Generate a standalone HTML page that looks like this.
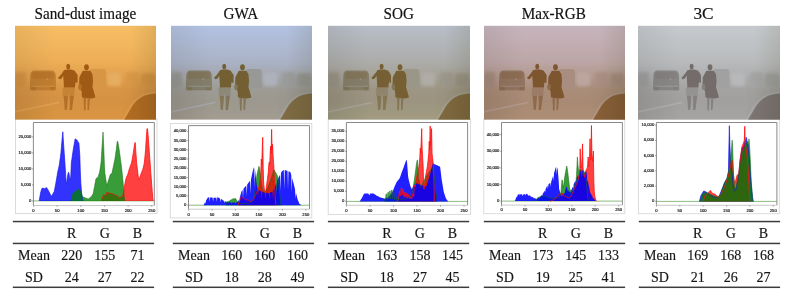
<!DOCTYPE html>
<html><head><meta charset="utf-8"><style>
html,body{margin:0;padding:0;background:#fff;width:793px;height:296px;overflow:hidden}
svg text{font-family:"Liberation Serif",serif;fill:#111;filter:url(#gs)}
.s{fill:#111;stroke:#111;stroke-width:0.18px}
.m{font-size:14px;fill:#151515;stroke:#151515;stroke-width:0.15px}
.t{font-family:"Liberation Sans",sans-serif !important;font-size:4.15px;fill:#1e1e1e;stroke:#3a3a3a;stroke-width:0.22px}
</style></head><body>
<svg width="793" height="296" viewBox="0 0 793 296" style="display:block">
<defs><filter id="gs" x="-0.2" y="-0.5" width="1.4" height="2"><feColorMatrix type="saturate" values="0"/></filter></defs><rect width="793" height="296" fill="#fff"/>
<text transform="translate(85.4,18.55) scale(0.95,1)" x="0" y="0" font-size="16" text-anchor="middle" class="s">Sand-dust image</text><text transform="translate(240.9,18.55) scale(0.95,1)" x="0" y="0" font-size="16" text-anchor="middle" class="s">GWA</text><text transform="translate(398.7,18.55) scale(0.95,1)" x="0" y="0" font-size="16" text-anchor="middle" class="s">SOG</text><text transform="translate(553.7,18.55) scale(0.95,1)" x="0" y="0" font-size="16" text-anchor="middle" class="s">Max-RGB</text><text transform="translate(703.5,18.55) scale(1.08,1)" x="0" y="0" font-size="16" text-anchor="middle" class="s">3C</text><rect x="15.5" y="119.0" width="141.5" height="94.6" fill="#fff" stroke="#d8d8d8" stroke-width="0.9"/><svg x="33.4" y="122.5" width="120.9" height="83" overflow="hidden"><g transform="translate(-33.4,-122.5)"><line x1="33.5" y1="200.9" x2="154.3" y2="200.9" stroke="#8cbc80" stroke-width="1"/><polygon points="33.5,200.9 33.97,200.9 34.45,200.9 34.92,200.9 35.39,200.9 35.87,200.9 36.34,200.9 36.81,200.9 37.28,200.9 37.76,200.9 38.23,200.9 38.7,200.9 39.18,200.9 39.65,198.23 40.12,195.57 40.59,192.9 41.07,191.11 41.54,189.32 42.01,188.36 42.49,188.23 42.96,188.1 43.43,188.31 43.91,188.53 44.38,188.74 44.85,188.46 45.33,188.17 45.8,187.89 46.27,187.6 46.74,187.83 47.22,188.58 47.69,189.33 48.16,190.15 48.64,191.04 49.11,191.94 49.58,192.84 50.05,193.73 50.53,194.63 51,195.52 51.47,196.42 51.95,195.57 52.42,194.71 52.89,193.86 53.37,193.01 53.84,192.15 54.31,191.3 54.78,188.75 55.26,186.21 55.73,183.66 56.2,181.12 56.68,178.37 57.15,175.49 57.62,172.61 58.1,170.27 58.57,168.28 59.04,166.3 59.52,163.28 59.99,159.82 60.46,156.36 60.93,152.9 61.41,147.3 61.88,141.7 62.35,136.74 62.83,131.78 63.3,139.46 63.77,146.67 64.25,153.4 64.72,160.13 65.19,167.36 65.66,174.94 66.14,182.51 66.61,183.37 67.08,179.76 67.56,176.15 68.03,173.65 68.5,172.28 68.97,173.02 69.45,176.94 69.92,179.05 70.39,179.96 70.87,174.55 71.34,162.82 71.81,159.54 72.29,156.26 72.76,152.98 73.23,149.7 73.7,146.98 74.18,144.26 74.65,141.54 75.12,138.82 75.6,139.14 76.07,139.46 76.54,139.78 77.02,140.1 77.49,140.9 77.96,141.7 78.44,142.5 78.91,143.3 79.38,149.7 79.85,156.1 80.33,172.1 80.8,182.34 81.27,188.74 81.75,195.14 82.22,198.06 82.69,199.48 83.16,200.9 83.64,200.9 84.11,200.9 84.58,200.9 85.06,200.9 85.53,200.9 86,200.9 86.48,200.9 86.95,200.9 87.42,200.9 87.89,200.9 88.37,200.9 88.84,200.9 89.31,200.9 89.79,200.9 90.26,200.9 90.73,200.9 91.21,200.9 91.68,200.9 92.15,200.9 92.62,200.9 93.1,200.9 93.57,200.9 94.04,200.9 94.52,200.9 94.99,200.9 95.46,200.9 95.94,200.9 96.41,200.9 96.88,200.9 97.35,200.9 97.83,200.9 98.3,200.9 98.77,200.9 99.25,200.9 99.72,200.9 100.19,200.9 100.67,200.9 101.14,200.9 101.61,200.9 102.08,200.9 102.56,200.9 103.03,200.9 103.5,200.9 103.98,200.9 104.45,200.9 104.92,200.9 105.4,200.9 105.87,200.9 106.34,200.9 106.81,200.9 107.29,200.9 107.76,200.9 108.23,200.9 108.71,200.9 109.18,200.9 109.65,200.9 110.13,200.9 110.6,200.9 111.07,200.9 111.55,200.9 112.02,200.9 112.49,200.9 112.96,200.9 113.44,200.9 113.91,200.9 114.38,200.9 114.86,200.9 115.33,200.9 115.8,200.9 116.27,200.9 116.75,200.9 117.22,200.9 117.69,200.9 118.17,200.9 118.64,200.9 119.11,200.9 119.59,200.9 120.06,200.9 120.53,200.9 121,200.9 121.48,200.9 121.95,200.9 122.42,200.9 122.9,200.9 123.37,200.9 123.84,200.9 124.32,200.9 124.79,200.9 125.26,200.9 125.73,200.9 126.21,200.9 126.68,200.9 127.15,200.9 127.63,200.9 128.1,200.9 128.57,200.9 129.05,200.9 129.52,200.9 129.99,200.9 130.46,200.9 130.94,200.9 131.41,200.9 131.88,200.9 132.36,200.9 132.83,200.9 133.3,200.9 133.78,200.9 134.25,200.9 134.72,200.9 135.19,200.9 135.67,200.9 136.14,200.9 136.61,200.9 137.09,200.9 137.56,200.9 138.03,200.9 138.51,200.9 138.98,200.9 139.45,200.9 139.93,200.9 140.4,200.9 140.87,200.9 141.34,200.9 141.82,200.9 142.29,200.9 142.76,200.9 143.24,200.9 143.71,200.9 144.18,200.9 144.66,200.9 145.13,200.9 145.6,200.9 146.07,200.9 146.55,200.9 147.02,200.9 147.49,200.9 147.97,200.9 148.44,200.9 148.91,200.9 149.38,200.9 149.86,200.9 150.33,200.9 150.8,200.9 151.28,200.9 151.75,200.9 152.22,200.9 152.7,200.9 153.17,200.9 153.64,200.9 154.12,200.9 154.12,200.9 33.5,200.9" fill="#0000ff" fill-opacity="0.8"/><polygon points="33.5,200.9 33.97,200.9 34.45,200.9 34.92,200.9 35.39,200.9 35.87,200.9 36.34,200.9 36.81,200.9 37.28,200.9 37.76,200.9 38.23,200.9 38.7,200.9 39.18,200.9 39.65,200.9 40.12,200.9 40.59,200.9 41.07,200.9 41.54,200.9 42.01,200.9 42.49,200.9 42.96,200.9 43.43,200.9 43.91,200.9 44.38,200.9 44.85,200.9 45.33,200.9 45.8,200.9 46.27,200.9 46.74,200.9 47.22,200.9 47.69,200.9 48.16,200.9 48.64,200.9 49.11,200.9 49.58,200.9 50.05,200.9 50.53,200.9 51,200.9 51.47,200.9 51.95,200.9 52.42,200.9 52.89,200.9 53.37,200.9 53.84,200.9 54.31,200.9 54.78,200.9 55.26,200.9 55.73,200.9 56.2,200.9 56.68,200.9 57.15,200.9 57.62,200.9 58.1,200.9 58.57,200.9 59.04,200.9 59.52,200.9 59.99,200.9 60.46,200.9 60.93,200.9 61.41,200.9 61.88,200.9 62.35,200.9 62.83,200.9 63.3,200.9 63.77,200.9 64.25,200.9 64.72,200.9 65.19,200.9 65.66,200.9 66.14,200.9 66.61,200.9 67.08,200.9 67.56,200.9 68.03,200.9 68.5,200.9 68.97,200.9 69.45,200.9 69.92,200.9 70.39,200.9 70.87,200.9 71.34,200.9 71.81,200.9 72.29,200.9 72.76,200.9 73.23,200.9 73.7,200.9 74.18,200.9 74.65,200.9 75.12,200.9 75.6,200.9 76.07,200.9 76.54,200.9 77.02,200.9 77.49,200.9 77.96,200.9 78.44,200.9 78.91,200.9 79.38,200.9 79.85,200.9 80.33,200.9 80.8,200.9 81.27,200.9 81.75,200.9 82.22,200.9 82.69,200.9 83.16,200.9 83.64,200.9 84.11,200.9 84.58,200.9 85.06,200.9 85.53,200.9 86,200.9 86.48,200.9 86.95,200.9 87.42,200.9 87.89,200.9 88.37,200.9 88.84,200.9 89.31,200.9 89.79,200.9 90.26,200.9 90.73,200.9 91.21,200.9 91.68,200.9 92.15,200.9 92.62,200.9 93.1,200.9 93.57,200.9 94.04,200.9 94.52,200.9 94.99,200.9 95.46,200.9 95.94,200.9 96.41,200.9 96.88,200.9 97.35,200.9 97.83,200.9 98.3,200.9 98.77,200.9 99.25,200.9 99.72,200.9 100.19,200.9 100.67,200.9 101.14,200.9 101.61,199.62 102.08,198.34 102.56,197.06 103.03,196.21 103.5,195.35 103.98,194.5 104.45,195.03 104.92,195.57 105.4,196.1 105.87,194.82 106.34,193.54 106.81,192.26 107.29,192.47 107.76,192.69 108.23,192.9 108.71,193.01 109.18,193.12 109.65,193.23 110.13,193.34 110.6,193.45 111.07,193.55 111.55,193.66 112.02,193.77 112.49,193.9 112.96,194.07 113.44,194.25 113.91,194.42 114.38,194.6 114.86,194.77 115.33,194.95 115.8,195.13 116.27,195.3 116.75,195.5 117.22,195.93 117.69,196.36 118.17,196.78 118.64,197.21 119.11,197.35 119.59,197.3 120.06,197.24 120.53,197.19 121,197.14 121.48,197.09 121.95,196.62 122.42,195.74 122.9,194.85 123.37,192.9 123.84,190.23 124.32,187.57 124.79,184.91 125.26,182.26 125.73,179.61 126.21,178.02 126.68,176.89 127.15,175.75 127.63,174.61 128.1,173.36 128.57,171.64 129.05,169.93 129.52,168.39 129.99,167.13 130.46,165.86 130.94,164.59 131.41,163.33 131.88,161.17 132.36,158.41 132.83,155.66 133.3,152.9 133.78,149.78 134.25,146.67 134.72,143.55 135.19,142.45 135.67,149.42 136.14,156.21 136.61,162.82 137.09,166.89 137.56,170.97 138.03,175.04 138.51,179.11 138.98,179.91 139.45,178.51 139.93,177.12 140.4,175.73 140.87,174.34 141.34,173.13 141.82,171.92 142.29,170.71 142.76,169.5 143.24,167.85 143.71,165.76 144.18,163.66 144.66,159.79 145.13,154.75 145.6,149.7 146.07,141.58 146.55,134.77 147.02,128.52 147.49,128.9 147.97,133.7 148.44,140.1 148.91,146.5 149.38,152.9 149.86,159.53 150.33,166.16 150.8,172.72 151.28,179.02 151.75,185.32 152.22,191.62 152.7,197.81 153.17,200.9 153.64,200.9 154.12,200.9 154.12,200.9 33.5,200.9" fill="#ff0000" fill-opacity="0.75"/><polygon points="33.5,200.9 33.97,200.9 34.45,200.9 34.92,200.9 35.39,200.9 35.87,200.9 36.34,200.9 36.81,200.9 37.28,200.9 37.76,200.9 38.23,200.9 38.7,200.9 39.18,200.9 39.65,200.9 40.12,200.9 40.59,200.9 41.07,200.9 41.54,200.9 42.01,200.9 42.49,200.9 42.96,200.9 43.43,200.9 43.91,200.9 44.38,200.9 44.85,200.9 45.33,200.9 45.8,200.9 46.27,200.9 46.74,200.9 47.22,200.9 47.69,200.9 48.16,200.9 48.64,200.9 49.11,200.9 49.58,200.9 50.05,200.9 50.53,200.9 51,200.9 51.47,200.9 51.95,200.9 52.42,200.9 52.89,200.9 53.37,200.9 53.84,200.9 54.31,200.9 54.78,200.9 55.26,200.9 55.73,200.9 56.2,200.9 56.68,200.9 57.15,200.9 57.62,200.9 58.1,200.9 58.57,200.9 59.04,200.9 59.52,200.9 59.99,200.9 60.46,200.9 60.93,200.9 61.41,200.9 61.88,200.9 62.35,200.9 62.83,200.9 63.3,200.9 63.77,200.9 64.25,200.9 64.72,200.9 65.19,200.9 65.66,200.9 66.14,200.9 66.61,200.9 67.08,200.9 67.56,200.9 68.03,200.9 68.5,200.9 68.97,200.9 69.45,200.9 69.92,200.9 70.39,200.9 70.87,200.9 71.34,199.3 71.81,197.38 72.29,195.46 72.76,193.54 73.23,193.17 73.7,192.79 74.18,192.42 74.65,192.05 75.12,191.67 75.6,191.3 76.07,190.93 76.54,190.55 77.02,190.18 77.49,189.81 77.96,189.43 78.44,189.06 78.91,189.57 79.38,190.08 79.85,190.59 80.33,191.1 80.8,192.01 81.27,193.19 81.75,194.37 82.22,195.56 82.69,196.74 83.16,196.95 83.64,197.17 84.11,197.38 84.58,197.59 85.06,197.81 85.53,198.02 86,198.18 86.48,198.34 86.95,198.5 87.42,198.66 87.89,198.82 88.37,198.98 88.84,198.61 89.31,198.23 89.79,197.86 90.26,197.49 90.73,197.11 91.21,196.74 91.68,196.02 92.15,195.3 92.62,194.58 93.1,193.86 93.57,191.41 94.04,188.95 94.52,186.5 94.99,183.94 95.46,181.38 95.94,178.82 96.41,178.37 96.88,177.92 97.35,177.48 97.83,177.03 98.3,176.58 98.77,174.87 99.25,173.17 99.72,171.46 100.19,168.37 100.67,165.28 101.14,161.74 101.61,154.12 102.08,146.5 102.56,139.3 103.03,132.1 103.5,141.7 103.98,153.07 104.45,166.21 104.92,173.34 105.4,176.47 105.87,179.6 106.34,182.73 106.81,185.86 107.29,184.3 107.76,182.73 108.23,181.17 108.71,179.6 109.18,178.07 109.65,176.58 110.13,175.09 110.6,174.23 111.07,174.02 111.55,173.81 112.02,172.63 112.49,170.5 112.96,168.37 113.44,166.15 113.91,163.85 114.38,161.56 114.86,159.26 115.33,156.35 115.8,153.02 116.27,149.7 116.75,145.57 117.22,141.43 117.69,141.27 118.17,143.74 118.64,146.22 119.11,149.19 119.59,152.64 120.06,156.1 120.53,159.76 121,163.41 121.48,167.07 121.95,171.11 122.42,175.52 122.9,179.93 123.37,185.54 123.84,191.94 124.32,198.34 124.79,200.9 125.26,200.9 125.73,200.9 126.21,200.9 126.68,200.9 127.15,200.9 127.63,200.9 128.1,200.9 128.57,200.9 129.05,200.9 129.52,200.9 129.99,200.9 130.46,200.9 130.94,200.9 131.41,200.9 131.88,200.9 132.36,200.9 132.83,200.9 133.3,200.9 133.78,200.9 134.25,200.9 134.72,200.9 135.19,200.9 135.67,200.9 136.14,200.9 136.61,200.9 137.09,200.9 137.56,200.9 138.03,200.9 138.51,200.9 138.98,200.9 139.45,200.9 139.93,200.9 140.4,200.9 140.87,200.9 141.34,200.9 141.82,200.9 142.29,200.9 142.76,200.9 143.24,200.9 143.71,200.9 144.18,200.9 144.66,200.9 145.13,200.9 145.6,200.9 146.07,200.9 146.55,200.9 147.02,200.9 147.49,200.9 147.97,200.9 148.44,200.9 148.91,200.9 149.38,200.9 149.86,200.9 150.33,200.9 150.8,200.9 151.28,200.9 151.75,200.9 152.22,200.9 152.7,200.9 153.17,200.9 153.64,200.9 154.12,200.9 154.12,200.9 33.5,200.9" fill="#008000" fill-opacity="0.78"/><polyline points="39.18,200.9 39.65,198.23 40.12,195.57 40.59,192.9 41.07,191.11 41.54,189.32 42.01,188.36 42.49,188.23 42.96,188.1 43.43,188.31 43.91,188.53 44.38,188.74 44.85,188.46 45.33,188.17 45.8,187.89 46.27,187.6 46.74,187.83 47.22,188.58 47.69,189.33 48.16,190.15 48.64,191.04 49.11,191.94 49.58,192.84 50.05,193.73 50.53,194.63 51,195.52 51.47,196.42 51.95,195.57 52.42,194.71 52.89,193.86 53.37,193.01 53.84,192.15 54.31,191.3 54.78,188.75 55.26,186.21 55.73,183.66 56.2,181.12 56.68,178.37 57.15,175.49 57.62,172.61 58.1,170.27 58.57,168.28 59.04,166.3 59.52,163.28 59.99,159.82 60.46,156.36 60.93,152.9 61.41,147.3 61.88,141.7 62.35,136.74 62.83,131.78 63.3,139.46 63.77,146.67 64.25,153.4 64.72,160.13 65.19,167.36 65.66,174.94 66.14,182.51 66.61,183.37 67.08,179.76 67.56,176.15 68.03,173.65 68.5,172.28 68.97,173.02 69.45,176.94 69.92,179.05 70.39,179.96 70.87,174.55 71.34,162.82 71.81,159.54 72.29,156.26 72.76,152.98 73.23,149.7 73.7,146.98 74.18,144.26 74.65,141.54 75.12,138.82 75.6,139.14 76.07,139.46 76.54,139.78 77.02,140.1 77.49,140.9 77.96,141.7 78.44,142.5 78.91,143.3 79.38,149.7 79.85,156.1 80.33,172.1 80.8,182.34 81.27,188.74 81.75,195.14 82.22,198.06 82.69,199.48 83.16,200.9" fill="none" stroke="#1010e8" stroke-width="0.7" stroke-opacity="0.9" stroke-linejoin="round"/><polyline points="101.14,200.9 101.61,199.62 102.08,198.34 102.56,197.06 103.03,196.21 103.5,195.35 103.98,194.5 104.45,195.03 104.92,195.57 105.4,196.1 105.87,194.82 106.34,193.54 106.81,192.26 107.29,192.47 107.76,192.69 108.23,192.9 108.71,193.01 109.18,193.12 109.65,193.23 110.13,193.34 110.6,193.45 111.07,193.55 111.55,193.66 112.02,193.77 112.49,193.9 112.96,194.07 113.44,194.25 113.91,194.42 114.38,194.6 114.86,194.77 115.33,194.95 115.8,195.13 116.27,195.3 116.75,195.5 117.22,195.93 117.69,196.36 118.17,196.78 118.64,197.21 119.11,197.35 119.59,197.3 120.06,197.24 120.53,197.19 121,197.14 121.48,197.09 121.95,196.62 122.42,195.74 122.9,194.85 123.37,192.9 123.84,190.23 124.32,187.57 124.79,184.91 125.26,182.26 125.73,179.61 126.21,178.02 126.68,176.89 127.15,175.75 127.63,174.61 128.1,173.36 128.57,171.64 129.05,169.93 129.52,168.39 129.99,167.13 130.46,165.86 130.94,164.59 131.41,163.33 131.88,161.17 132.36,158.41 132.83,155.66 133.3,152.9 133.78,149.78 134.25,146.67 134.72,143.55 135.19,142.45 135.67,149.42 136.14,156.21 136.61,162.82 137.09,166.89 137.56,170.97 138.03,175.04 138.51,179.11 138.98,179.91 139.45,178.51 139.93,177.12 140.4,175.73 140.87,174.34 141.34,173.13 141.82,171.92 142.29,170.71 142.76,169.5 143.24,167.85 143.71,165.76 144.18,163.66 144.66,159.79 145.13,154.75 145.6,149.7 146.07,141.58 146.55,134.77 147.02,128.52 147.49,128.9 147.97,133.7 148.44,140.1 148.91,146.5 149.38,152.9 149.86,159.53 150.33,166.16 150.8,172.72 151.28,179.02 151.75,185.32 152.22,191.62 152.7,197.81 153.17,200.9" fill="none" stroke="#ff1010" stroke-width="0.9" stroke-opacity="0.9" stroke-linejoin="round"/><polyline points="70.87,200.9 71.34,199.3 71.81,197.38 72.29,195.46 72.76,193.54 73.23,193.17 73.7,192.79 74.18,192.42 74.65,192.05 75.12,191.67 75.6,191.3 76.07,190.93 76.54,190.55 77.02,190.18 77.49,189.81 77.96,189.43 78.44,189.06 78.91,189.57 79.38,190.08 79.85,190.59 80.33,191.1 80.8,192.01 81.27,193.19 81.75,194.37 82.22,195.56 82.69,196.74 83.16,196.95 83.64,197.17 84.11,197.38 84.58,197.59 85.06,197.81 85.53,198.02 86,198.18 86.48,198.34 86.95,198.5 87.42,198.66 87.89,198.82 88.37,198.98 88.84,198.61 89.31,198.23 89.79,197.86 90.26,197.49 90.73,197.11 91.21,196.74 91.68,196.02 92.15,195.3 92.62,194.58 93.1,193.86 93.57,191.41 94.04,188.95 94.52,186.5 94.99,183.94 95.46,181.38 95.94,178.82 96.41,178.37 96.88,177.92 97.35,177.48 97.83,177.03 98.3,176.58 98.77,174.87 99.25,173.17 99.72,171.46 100.19,168.37 100.67,165.28 101.14,161.74 101.61,154.12 102.08,146.5 102.56,139.3 103.03,132.1 103.5,141.7 103.98,153.07 104.45,166.21 104.92,173.34 105.4,176.47 105.87,179.6 106.34,182.73 106.81,185.86 107.29,184.3 107.76,182.73 108.23,181.17 108.71,179.6 109.18,178.07 109.65,176.58 110.13,175.09 110.6,174.23 111.07,174.02 111.55,173.81 112.02,172.63 112.49,170.5 112.96,168.37 113.44,166.15 113.91,163.85 114.38,161.56 114.86,159.26 115.33,156.35 115.8,153.02 116.27,149.7 116.75,145.57 117.22,141.43 117.69,141.27 118.17,143.74 118.64,146.22 119.11,149.19 119.59,152.64 120.06,156.1 120.53,159.76 121,163.41 121.48,167.07 121.95,171.11 122.42,175.52 122.9,179.93 123.37,185.54 123.84,191.94 124.32,198.34 124.79,200.9" fill="none" stroke="#107010" stroke-width="0.6" stroke-opacity="0.9" stroke-linejoin="round"/></g></svg><path d="M33.4,205.5 L33.4,122.5 L154.3,122.5 L154.3,205.5" fill="none" stroke="#7c7c7c" stroke-width="0.9"/><line x1="33.4" y1="205.5" x2="154.3" y2="205.5" stroke="#c4c4c4" stroke-width="0.9"/><line x1="32" y1="200.9" x2="33.4" y2="200.9" stroke="#555" stroke-width="0.5"/><text x="31.2" y="201.9" class="t" text-anchor="end">0</text><line x1="32" y1="184.9" x2="33.4" y2="184.9" stroke="#555" stroke-width="0.5"/><text x="31.2" y="185.9" class="t" text-anchor="end">5,000</text><line x1="32" y1="168.9" x2="33.4" y2="168.9" stroke="#555" stroke-width="0.5"/><text x="31.2" y="169.9" class="t" text-anchor="end">10,000</text><line x1="32" y1="152.9" x2="33.4" y2="152.9" stroke="#555" stroke-width="0.5"/><text x="31.2" y="153.9" class="t" text-anchor="end">15,000</text><line x1="32" y1="136.9" x2="33.4" y2="136.9" stroke="#555" stroke-width="0.5"/><text x="31.2" y="137.9" class="t" text-anchor="end">20,000</text><line x1="33.5" y1="205.5" x2="33.5" y2="206.9" stroke="#555" stroke-width="0.5"/><text x="33.5" y="211.6" class="t" text-anchor="middle">0</text><line x1="57.15" y1="205.5" x2="57.15" y2="206.9" stroke="#555" stroke-width="0.5"/><text x="57.15" y="211.6" class="t" text-anchor="middle">50</text><line x1="80.8" y1="205.5" x2="80.8" y2="206.9" stroke="#555" stroke-width="0.5"/><text x="80.8" y="211.6" class="t" text-anchor="middle">100</text><line x1="104.45" y1="205.5" x2="104.45" y2="206.9" stroke="#555" stroke-width="0.5"/><text x="104.45" y="211.6" class="t" text-anchor="middle">150</text><line x1="128.1" y1="205.5" x2="128.1" y2="206.9" stroke="#555" stroke-width="0.5"/><text x="128.1" y="211.6" class="t" text-anchor="middle">200</text><line x1="151.75" y1="205.5" x2="151.75" y2="206.9" stroke="#555" stroke-width="0.5"/><text x="151.75" y="211.6" class="t" text-anchor="middle">250</text><rect x="170.3" y="123.5" width="141.5" height="94.4" fill="#fff" stroke="#d8d8d8" stroke-width="0.9"/><svg x="188.5" y="125.6" width="121" height="83.6" overflow="hidden"><g transform="translate(-188.5,-125.6)"><line x1="188.7" y1="205.2" x2="309.5" y2="205.2" stroke="#8cbc80" stroke-width="1"/><polygon points="188.7,205.2 189.17,205.2 189.64,205.2 190.11,205.2 190.57,205.2 191.04,205.2 191.51,205.2 191.98,205.2 192.45,205.2 192.92,205.2 193.38,205.2 193.85,205.2 194.32,205.2 194.79,205.2 195.26,205.2 195.73,205.2 196.19,205.2 196.66,205.2 197.13,205.2 197.6,205.2 198.07,205.2 198.54,205.2 199,205.2 199.47,205.2 199.94,205.2 200.41,205.2 200.88,205.2 201.35,205.2 201.82,205.2 202.28,205.2 202.75,205.2 203.22,205.2 203.69,205.2 204.16,205.2 204.63,205.2 205.09,205.2 205.56,205.2 206.03,205.2 206.5,205.2 206.97,205.2 207.44,205.2 207.9,205.2 208.37,205.2 208.84,205.2 209.31,205.2 209.78,205.2 210.25,205.2 210.71,205.2 211.18,205.2 211.65,205.2 212.12,205.2 212.59,205.2 213.06,205.2 213.53,205.2 213.99,205.2 214.46,205.2 214.93,205.2 215.4,205.2 215.87,205.2 216.34,205.2 216.8,205.2 217.27,205.2 217.74,205.2 218.21,205.2 218.68,205.2 219.15,205.2 219.61,205.2 220.08,205.2 220.55,205.2 221.02,205.2 221.49,205.2 221.96,205.2 222.42,205.2 222.89,205.2 223.36,205.2 223.83,205.2 224.3,205.2 224.77,205.2 225.24,205.2 225.7,205.2 226.17,203.54 226.64,201.88 227.11,201.73 227.58,201.57 228.05,201.42 228.51,201.27 228.98,201.11 229.45,200.96 229.92,200.66 230.39,200.35 230.86,200.05 231.32,199.75 231.79,199.45 232.26,199.14 232.73,198.91 233.2,198.85 233.67,198.8 234.13,198.74 234.6,198.68 235.07,198.62 235.54,198.56 236.01,199.27 236.48,199.97 236.95,200.68 237.41,201.39 237.88,201.96 238.35,202.24 238.82,202.52 239.29,202.8 239.76,203.08 240.22,203.36 240.69,203.37 241.16,203.39 241.63,203.41 242.1,203.43 242.57,203.45 243.03,203.47 243.5,203.49 243.97,203.5 244.44,203.52 244.91,203.54 245.38,203.52 245.84,203.5 246.31,203.49 246.78,203.47 247.25,203.45 247.72,203.43 248.19,203.41 248.66,203.39 249.12,203.37 249.59,203.36 250.06,203.01 250.53,202.66 251,202.32 251.47,201.97 251.93,201.63 252.4,201.28 252.87,200.94 253.34,200.59 253.81,198.05 254.28,195.52 254.74,192.98 255.21,190.45 255.68,186.15 256.15,181.84 256.62,177.54 257.09,174.17 257.55,172.22 258.02,170.26 258.49,168.3 258.96,166.34 259.43,167.87 259.9,171.73 260.37,175.59 260.83,179.2 261.3,182.43 261.77,185.65 262.24,188.42 262.71,189.37 263.18,190.31 263.64,191.25 264.11,192.19 264.58,192.32 265.05,191.62 265.52,190.93 265.99,190.24 266.45,189.55 266.92,188.86 267.39,188.12 267.86,186.95 268.33,185.78 268.8,184.61 269.26,183.43 269.73,182.26 270.2,181.09 270.67,179.74 271.14,178.34 271.61,176.94 272.08,175.54 272.54,174.14 273.01,172.74 273.48,171.34 273.95,169.94 274.42,170.49 274.89,171.26 275.35,172.02 275.82,172.79 276.29,173.58 276.76,174.53 277.23,175.48 277.7,176.43 278.16,180.01 278.63,183.59 279.1,187.16 279.57,191.77 280.04,196.83 280.51,201.89 280.97,204.61 281.44,205.2 281.91,205.2 282.38,205.2 282.85,205.2 283.32,205.2 283.79,205.2 284.25,205.2 284.72,205.2 285.19,205.2 285.66,205.2 286.13,205.2 286.6,205.2 287.06,205.2 287.53,205.2 288,205.2 288.47,205.2 288.94,205.2 289.41,205.2 289.87,205.2 290.34,205.2 290.81,205.2 291.28,205.2 291.75,205.2 292.22,205.2 292.68,205.2 293.15,205.2 293.62,205.2 294.09,205.2 294.56,205.2 295.03,205.2 295.5,205.2 295.96,205.2 296.43,205.2 296.9,205.2 297.37,205.2 297.84,205.2 298.31,205.2 298.77,205.2 299.24,205.2 299.71,205.2 300.18,205.2 300.65,205.2 301.12,205.2 301.58,205.2 302.05,205.2 302.52,205.2 302.99,205.2 303.46,205.2 303.93,205.2 304.39,205.2 304.86,205.2 305.33,205.2 305.8,205.2 306.27,205.2 306.74,205.2 307.21,205.2 307.67,205.2 308.14,205.2 308.14,205.2 188.7,205.2" fill="#008000" fill-opacity="0.78"/><polygon points="188.7,205.2 189.17,205.2 189.64,205.2 190.11,205.2 190.57,205.2 191.04,205.2 191.51,205.2 191.98,205.2 192.45,205.2 192.92,205.2 193.38,205.2 193.85,205.2 194.32,205.2 194.79,205.2 195.26,205.2 195.73,205.2 196.19,205.2 196.66,205.2 197.13,205.2 197.6,205.2 198.07,205.2 198.54,205.2 199,205.2 199.47,205.2 199.94,205.2 200.41,205.2 200.88,205.2 201.35,205.2 201.82,205.2 202.28,205.2 202.75,205.2 203.22,205.2 203.69,205.2 204.16,205.2 204.63,205.2 205.09,205.2 205.56,205.2 206.03,205.2 206.5,205.2 206.97,205.2 207.44,205.2 207.9,205.2 208.37,205.2 208.84,205.2 209.31,205.2 209.78,205.2 210.25,205.2 210.71,205.2 211.18,205.2 211.65,205.2 212.12,205.2 212.59,205.2 213.06,205.2 213.53,205.2 213.99,205.2 214.46,205.2 214.93,205.2 215.4,205.2 215.87,205.2 216.34,205.2 216.8,205.2 217.27,205.2 217.74,205.2 218.21,205.2 218.68,205.2 219.15,205.2 219.61,205.2 220.08,205.2 220.55,205.2 221.02,205.2 221.49,205.2 221.96,205.2 222.42,205.2 222.89,205.2 223.36,205.2 223.83,205.2 224.3,205.2 224.77,205.2 225.24,205.2 225.7,205.2 226.17,205.2 226.64,205.2 227.11,205.2 227.58,205.2 228.05,205.2 228.51,205.2 228.98,205.2 229.45,205.2 229.92,205.2 230.39,205.2 230.86,205.2 231.32,205.2 231.79,205.2 232.26,205.2 232.73,205.2 233.2,205.2 233.67,205.2 234.13,205.2 234.6,205.2 235.07,205.2 235.54,205.2 236.01,205.2 236.48,205.2 236.95,205.2 237.41,205.2 237.88,205.2 238.35,203.97 238.82,202.74 239.29,201.51 239.76,200.45 240.22,199.39 240.69,198.33 241.16,197.27 241.63,196.65 242.1,197.04 242.57,197.43 243.03,197.82 243.5,198.18 243.97,198.55 244.44,198.91 244.91,199.27 245.38,199.53 245.84,199.65 246.31,199.76 246.78,199.88 247.25,200 247.72,200.11 248.19,200.23 248.66,200.35 249.12,200.55 249.59,200.84 250.06,201.12 250.53,201.41 251,201.7 251.47,201.23 251.93,200.76 252.4,200.29 252.87,199.82 253.34,199.35 253.81,198.89 254.28,197.99 254.74,196.9 255.21,195.82 255.68,194.74 256.15,193.66 256.62,192.57 257.09,191.45 257.55,190.28 258.02,189.11 258.49,187.93 258.96,186.76 259.43,183.99 259.9,181.23 260.37,176.62 260.83,172.01 261.3,159.1 261.77,164.63 262.24,149.88 262.71,137.34 263.18,168.32 263.64,183.07 264.11,187.22 264.58,191.37 265.05,192.6 265.52,192.29 265.99,190.45 266.45,186.48 266.92,182.86 267.39,179.38 267.86,175.7 268.33,172.01 268.8,164.63 269.26,162.17 269.73,164.63 270.2,153.57 270.67,146.19 271.14,153.57 271.61,129.41 272.08,149.88 272.54,144.35 273.01,154.18 273.48,162.17 273.95,168.32 274.42,180.61 274.89,191.52 275.35,201.05 275.82,204.44 276.29,205.2 276.76,205.2 277.23,205.2 277.7,205.2 278.16,205.2 278.63,205.2 279.1,205.2 279.57,205.2 280.04,205.2 280.51,205.2 280.97,205.2 281.44,205.2 281.91,205.2 282.38,205.2 282.85,205.2 283.32,205.2 283.79,205.2 284.25,205.2 284.72,205.2 285.19,205.2 285.66,205.2 286.13,205.2 286.6,205.2 287.06,205.2 287.53,205.2 288,205.2 288.47,205.2 288.94,205.2 289.41,205.2 289.87,205.2 290.34,205.2 290.81,205.2 291.28,205.2 291.75,205.2 292.22,205.2 292.68,205.2 293.15,205.2 293.62,205.2 294.09,205.2 294.56,205.2 295.03,205.2 295.5,205.2 295.96,205.2 296.43,205.2 296.9,205.2 297.37,205.2 297.84,205.2 298.31,205.2 298.77,205.2 299.24,205.2 299.71,205.2 300.18,205.2 300.65,205.2 301.12,205.2 301.58,205.2 302.05,205.2 302.52,205.2 302.99,205.2 303.46,205.2 303.93,205.2 304.39,205.2 304.86,205.2 305.33,205.2 305.8,205.2 306.27,205.2 306.74,205.2 307.21,205.2 307.67,205.2 308.14,205.2 308.14,205.2 188.7,205.2" fill="#ff0000" fill-opacity="0.75"/><polygon points="188.7,205.2 189.17,205.2 189.64,205.2 190.11,205.2 190.57,205.2 191.04,205.2 191.51,205.2 191.98,205.2 192.45,205.2 192.92,205.2 193.38,205.2 193.85,205.2 194.32,205.2 194.79,205.2 195.26,205.2 195.73,205.2 196.19,205.2 196.66,205.2 197.13,205.2 197.6,205.2 198.07,205.2 198.54,205.2 199,205.2 199.47,205.2 199.94,205.2 200.41,205.2 200.88,205.2 201.35,205.2 201.82,205.2 202.28,205.2 202.75,205.2 203.22,205.2 203.69,205.02 204.16,204.12 204.63,203.21 205.09,202.31 205.56,203.49 206.03,200.58 206.5,199.83 206.97,199.08 207.44,198.32 207.9,197.57 208.37,197.28 208.84,197.31 209.31,201.66 209.78,197.35 210.25,197.38 210.71,197.4 211.18,197.42 211.65,197.45 212.12,197.49 212.59,197.53 213.06,201.77 213.53,197.63 213.99,197.67 214.46,197.72 214.93,197.77 215.4,197.81 215.87,197.73 216.34,197.61 216.8,201.73 217.27,197.38 217.74,197.29 218.21,197.52 218.68,197.75 219.15,197.99 219.61,198.22 220.08,198.46 220.55,202.29 221.02,199.02 221.49,199.3 221.96,199.58 222.42,199.86 222.89,200.14 223.36,200.42 223.83,200.67 224.3,203.25 224.77,201.07 225.24,201.28 225.7,201.48 226.17,201.68 226.64,201.88 227.11,201.94 227.58,202 228.05,203.78 228.51,202.11 228.98,202.17 229.45,202.23 229.92,202.29 230.39,202.35 230.86,202.4 231.32,202.43 231.79,203.96 232.26,202.43 232.73,202.43 233.2,202.43 233.67,202.43 234.13,202.43 234.6,202.43 235.07,202.43 235.54,203.96 236.01,202.43 236.48,202.43 236.95,202.43 237.41,201.97 237.88,201.3 238.35,200.63 238.82,199.97 239.29,202.54 239.76,197.61 240.22,195.93 240.69,194.24 241.16,192.55 241.63,191.19 242.1,190.61 242.57,190.02 243.03,198.11 243.5,188.85 243.97,188.27 244.44,187.68 244.91,187.12 245.38,186.56 245.84,185.99 246.31,185.43 246.78,196.05 247.25,184.3 247.72,183.74 248.19,183.18 248.66,182.62 249.12,182.01 249.59,181.35 250.06,180.7 250.53,193.88 251,179.38 251.47,177.19 251.93,174.99 252.4,172.79 252.87,170.6 253.34,168.62 253.81,167.17 254.28,187.44 254.74,167.14 255.21,171.42 255.68,175.7 256.15,179.95 256.62,184.21 257.09,187.1 257.55,187.93 258.02,197.81 258.49,189.61 258.96,190.45 259.43,190.63 259.9,190.82 260.37,191 260.83,191.19 261.3,191.37 261.77,199.06 262.24,191.74 262.71,191.92 263.18,192.11 263.64,192.29 264.11,192.38 264.58,192.48 265.05,192.57 265.52,199.56 265.99,192.75 266.45,192.85 266.92,192.94 267.39,193.03 267.86,193.12 268.33,193.21 268.8,193.03 269.26,199.64 269.73,192.66 270.2,192.48 270.67,192.29 271.14,192.11 271.61,191.92 272.08,191.74 272.54,191.55 273.01,198.98 273.48,190.18 273.95,189 274.42,187.81 274.89,186.63 275.35,185.44 275.82,184.26 276.29,183.07 276.76,194.74 277.23,180.86 277.7,179.75 278.16,178.65 278.63,177.54 279.1,176.62 279.57,175.7 280.04,174.77 280.51,191.09 280.97,172.93 281.44,172.01 281.91,171.55 282.38,171.09 282.85,170.62 283.32,170.16 283.79,169.82 284.25,189.33 284.72,170.06 285.19,170.18 285.66,170.29 286.13,170.41 286.6,170.53 287.06,170.72 287.53,170.9 288,189.85 288.47,171.27 288.94,171.45 289.41,171.64 289.87,171.82 290.34,172.01 290.81,173.54 291.28,175.08 291.75,192.34 292.22,178.15 292.68,179.76 293.15,181.67 293.62,183.57 294.09,185.48 294.56,187.38 295.03,189.28 295.5,198.89 295.96,192.99 296.43,194.8 296.9,196.61 297.37,198.41 297.84,200.22 298.31,201.08 298.77,201.95 299.24,204.12 299.71,203.67 300.18,204.36 300.65,204.64 301.12,204.92 301.58,205.2 302.05,205.2 302.52,205.2 302.99,205.2 303.46,205.2 303.93,205.2 304.39,205.2 304.86,205.2 305.33,205.2 305.8,205.2 306.27,205.2 306.74,205.2 307.21,205.2 307.67,205.2 308.14,205.2 308.14,205.2 188.7,205.2" fill="#0000ff" fill-opacity="0.88"/><polyline points="237.88,205.2 238.35,203.97 238.82,202.74 239.29,201.51 239.76,200.45 240.22,199.39 240.69,198.33 241.16,197.27 241.63,196.65 242.1,197.04 242.57,197.43 243.03,197.82 243.5,198.18 243.97,198.55 244.44,198.91 244.91,199.27 245.38,199.53 245.84,199.65 246.31,199.76 246.78,199.88 247.25,200 247.72,200.11 248.19,200.23 248.66,200.35 249.12,200.55 249.59,200.84 250.06,201.12 250.53,201.41 251,201.7 251.47,201.23 251.93,200.76 252.4,200.29 252.87,199.82 253.34,199.35 253.81,198.89 254.28,197.99 254.74,196.9 255.21,195.82 255.68,194.74 256.15,193.66 256.62,192.57 257.09,191.45 257.55,190.28 258.02,189.11 258.49,187.93 258.96,186.76 259.43,183.99 259.9,181.23 260.37,176.62 260.83,172.01 261.3,159.1 261.77,164.63 262.24,149.88 262.71,137.34 263.18,168.32 263.64,183.07 264.11,187.22 264.58,191.37 265.05,192.6 265.52,192.29 265.99,190.45 266.45,186.48 266.92,182.86 267.39,179.38 267.86,175.7 268.33,172.01 268.8,164.63 269.26,162.17 269.73,164.63 270.2,153.57 270.67,146.19 271.14,153.57 271.61,129.41 272.08,149.88 272.54,144.35 273.01,154.18 273.48,162.17 273.95,168.32 274.42,180.61 274.89,191.52 275.35,201.05 275.82,204.44 276.29,205.2" fill="none" stroke="#ff1010" stroke-width="0.9" stroke-opacity="0.9" stroke-linejoin="round"/><polyline points="225.7,205.2 226.17,203.54 226.64,201.88 227.11,201.73 227.58,201.57 228.05,201.42 228.51,201.27 228.98,201.11 229.45,200.96 229.92,200.66 230.39,200.35 230.86,200.05 231.32,199.75 231.79,199.45 232.26,199.14 232.73,198.91 233.2,198.85 233.67,198.8 234.13,198.74 234.6,198.68 235.07,198.62 235.54,198.56 236.01,199.27 236.48,199.97 236.95,200.68 237.41,201.39 237.88,201.96 238.35,202.24 238.82,202.52 239.29,202.8 239.76,203.08 240.22,203.36 240.69,203.37 241.16,203.39 241.63,203.41 242.1,203.43 242.57,203.45 243.03,203.47 243.5,203.49 243.97,203.5 244.44,203.52 244.91,203.54 245.38,203.52 245.84,203.5 246.31,203.49 246.78,203.47 247.25,203.45 247.72,203.43 248.19,203.41 248.66,203.39 249.12,203.37 249.59,203.36 250.06,203.01 250.53,202.66 251,202.32 251.47,201.97 251.93,201.63 252.4,201.28 252.87,200.94 253.34,200.59 253.81,198.05 254.28,195.52 254.74,192.98 255.21,190.45 255.68,186.15 256.15,181.84 256.62,177.54 257.09,174.17 257.55,172.22 258.02,170.26 258.49,168.3 258.96,166.34 259.43,167.87 259.9,171.73 260.37,175.59 260.83,179.2 261.3,182.43 261.77,185.65 262.24,188.42 262.71,189.37 263.18,190.31 263.64,191.25 264.11,192.19 264.58,192.32 265.05,191.62 265.52,190.93 265.99,190.24 266.45,189.55 266.92,188.86 267.39,188.12 267.86,186.95 268.33,185.78 268.8,184.61 269.26,183.43 269.73,182.26 270.2,181.09 270.67,179.74 271.14,178.34 271.61,176.94 272.08,175.54 272.54,174.14 273.01,172.74 273.48,171.34 273.95,169.94 274.42,170.49 274.89,171.26 275.35,172.02 275.82,172.79 276.29,173.58 276.76,174.53 277.23,175.48 277.7,176.43 278.16,180.01 278.63,183.59 279.1,187.16 279.57,191.77 280.04,196.83 280.51,201.89 280.97,204.61 281.44,205.2" fill="none" stroke="#107010" stroke-width="0.6" stroke-opacity="0.9" stroke-linejoin="round"/></g></svg><path d="M188.5,209.2 L188.5,125.6 L309.5,125.6 L309.5,209.2" fill="none" stroke="#7c7c7c" stroke-width="0.9"/><line x1="188.5" y1="209.2" x2="309.5" y2="209.2" stroke="#c4c4c4" stroke-width="0.9"/><line x1="187.1" y1="205.2" x2="188.5" y2="205.2" stroke="#555" stroke-width="0.5"/><text x="186.3" y="206.2" class="t" text-anchor="end">0</text><line x1="187.1" y1="195.98" x2="188.5" y2="195.98" stroke="#555" stroke-width="0.5"/><text x="186.3" y="196.98" class="t" text-anchor="end">5,000</text><line x1="187.1" y1="186.76" x2="188.5" y2="186.76" stroke="#555" stroke-width="0.5"/><text x="186.3" y="187.76" class="t" text-anchor="end">10,000</text><line x1="187.1" y1="177.54" x2="188.5" y2="177.54" stroke="#555" stroke-width="0.5"/><text x="186.3" y="178.54" class="t" text-anchor="end">15,000</text><line x1="187.1" y1="168.32" x2="188.5" y2="168.32" stroke="#555" stroke-width="0.5"/><text x="186.3" y="169.32" class="t" text-anchor="end">20,000</text><line x1="187.1" y1="159.1" x2="188.5" y2="159.1" stroke="#555" stroke-width="0.5"/><text x="186.3" y="160.1" class="t" text-anchor="end">25,000</text><line x1="187.1" y1="149.88" x2="188.5" y2="149.88" stroke="#555" stroke-width="0.5"/><text x="186.3" y="150.88" class="t" text-anchor="end">30,000</text><line x1="187.1" y1="140.66" x2="188.5" y2="140.66" stroke="#555" stroke-width="0.5"/><text x="186.3" y="141.66" class="t" text-anchor="end">35,000</text><line x1="187.1" y1="131.44" x2="188.5" y2="131.44" stroke="#555" stroke-width="0.5"/><text x="186.3" y="132.44" class="t" text-anchor="end">40,000</text><line x1="188.7" y1="209.2" x2="188.7" y2="210.6" stroke="#555" stroke-width="0.5"/><text x="188.7" y="215.7" class="t" text-anchor="middle">0</text><line x1="212.12" y1="209.2" x2="212.12" y2="210.6" stroke="#555" stroke-width="0.5"/><text x="212.12" y="215.7" class="t" text-anchor="middle">50</text><line x1="235.54" y1="209.2" x2="235.54" y2="210.6" stroke="#555" stroke-width="0.5"/><text x="235.54" y="215.7" class="t" text-anchor="middle">100</text><line x1="258.96" y1="209.2" x2="258.96" y2="210.6" stroke="#555" stroke-width="0.5"/><text x="258.96" y="215.7" class="t" text-anchor="middle">150</text><line x1="282.38" y1="209.2" x2="282.38" y2="210.6" stroke="#555" stroke-width="0.5"/><text x="282.38" y="215.7" class="t" text-anchor="middle">200</text><line x1="305.8" y1="209.2" x2="305.8" y2="210.6" stroke="#555" stroke-width="0.5"/><text x="305.8" y="215.7" class="t" text-anchor="middle">250</text><rect x="328.2" y="119.0" width="142.4" height="95.4" fill="#fff" stroke="#d8d8d8" stroke-width="0.9"/><svg x="346.4" y="122.5" width="121.2" height="82.8" overflow="hidden"><g transform="translate(-346.4,-122.5)"><line x1="346.5" y1="201.4" x2="467.6" y2="201.4" stroke="#8cbc80" stroke-width="1"/><polygon points="346.5,201.4 346.97,201.4 347.44,201.4 347.91,201.4 348.38,201.4 348.85,201.4 349.32,201.4 349.79,201.4 350.26,201.4 350.73,201.4 351.2,201.4 351.67,201.4 352.14,201.4 352.61,201.4 353.08,201.4 353.55,201.4 354.02,201.4 354.49,201.4 354.96,201.4 355.43,201.4 355.9,201.4 356.37,201.4 356.84,201.4 357.31,201.4 357.78,201.4 358.25,201.4 358.72,201.4 359.19,201.4 359.66,201.4 360.13,201.4 360.6,201.4 361.07,201.4 361.54,201.4 362.01,201.4 362.48,201.4 362.95,201.4 363.42,201.4 363.89,201.4 364.36,201.4 364.83,201.4 365.3,201.4 365.77,201.4 366.24,201.4 366.71,201.4 367.18,201.4 367.65,201.4 368.12,201.4 368.59,201.4 369.06,201.4 369.53,201.4 370,201.4 370.47,201.4 370.94,201.4 371.41,201.4 371.88,201.4 372.35,201.4 372.82,201.4 373.29,201.4 373.76,201.4 374.23,201.4 374.7,201.4 375.17,201.4 375.64,201.4 376.11,201.4 376.58,201.4 377.05,201.4 377.52,201.4 377.99,201.4 378.46,201.4 378.93,201.4 379.4,201.4 379.87,201.4 380.34,201.4 380.81,201.4 381.28,201.4 381.75,201.4 382.22,201.4 382.69,201.4 383.16,201.4 383.63,201.4 384.1,201.4 384.57,199 385.04,200.2 385.51,199.85 385.98,194.48 386.45,193.76 386.92,199.35 387.39,199.26 387.86,192.48 388.33,192.11 388.8,198.99 389.27,198.9 389.74,191.08 390.21,190.87 390.68,198.72 391.15,198.66 391.62,190.25 392.09,190.05 392.56,198.57 393.03,198.8 393.5,191.92 393.97,192.85 394.44,199.5 394.91,199.73 395.38,195.64 395.85,195.96 396.32,200.12 396.79,200.2 397.26,196.92 397.73,197.24 398.2,200.44 398.67,199.04 399.14,199.08 399.61,199.12 400.08,199.16 400.55,199.2 401.02,199.24 401.49,199.28 401.96,199.32 402.43,199.36 402.9,199.4 403.37,199.3 403.84,199.2 404.31,199.1 404.78,199 405.25,198.9 405.72,198.8 406.19,198.7 406.66,198.6 407.13,198.5 407.6,198.4 408.07,198.07 408.54,197.73 409.01,197.4 409.48,197.07 409.95,196.73 410.42,196.4 410.89,195.42 411.36,194.44 411.83,193.47 412.3,192.49 412.77,190.41 413.24,187.24 413.71,184.07 414.18,180.89 414.65,177.72 415.12,174.17 415.59,170.58 416.06,166.99 416.53,163.4 417,161.08 417.47,159.92 417.94,169.12 418.41,177.62 418.88,179.84 419.35,182.06 419.82,184.27 420.29,186.49 420.76,187.14 421.23,186.21 421.7,185.29 422.17,184.36 422.64,183.44 423.11,182.51 423.58,181.59 424.05,180.66 424.52,179.74 424.99,178.84 425.46,178.06 425.93,177.28 426.4,176.5 426.87,175.71 427.34,174.93 427.81,174.15 428.28,173.37 428.75,172.58 429.22,171.8 429.69,171.09 430.16,170.38 430.63,169.67 431.1,168.96 431.57,168.25 432.04,167.54 432.51,169.1 432.98,171.23 433.45,173.36 433.92,175.49 434.39,177.87 434.86,182.58 435.33,187.29 435.8,192 436.27,194.73 436.74,197.47 437.21,200.2 437.68,201.4 438.15,201.4 438.62,201.4 439.09,201.4 439.56,201.4 440.03,201.4 440.5,201.4 440.97,201.4 441.44,201.4 441.91,201.4 442.38,201.4 442.85,201.4 443.32,201.4 443.79,201.4 444.26,201.4 444.73,201.4 445.2,201.4 445.67,201.4 446.14,201.4 446.61,201.4 447.08,201.4 447.55,201.4 448.02,201.4 448.49,201.4 448.96,201.4 449.43,201.4 449.9,201.4 450.37,201.4 450.84,201.4 451.31,201.4 451.78,201.4 452.25,201.4 452.72,201.4 453.19,201.4 453.66,201.4 454.13,201.4 454.6,201.4 455.07,201.4 455.54,201.4 456.01,201.4 456.48,201.4 456.95,201.4 457.42,201.4 457.89,201.4 458.36,201.4 458.83,201.4 459.3,201.4 459.77,201.4 460.24,201.4 460.71,201.4 461.18,201.4 461.65,201.4 462.12,201.4 462.59,201.4 463.06,201.4 463.53,201.4 464,201.4 464.47,201.4 464.94,201.4 465.41,201.4 465.88,201.4 466.35,201.4 466.35,201.4 346.5,201.4" fill="#008000" fill-opacity="0.78"/><polygon points="346.5,201.4 346.97,201.4 347.44,201.4 347.91,201.4 348.38,201.4 348.85,201.4 349.32,201.4 349.79,201.4 350.26,201.4 350.73,201.4 351.2,201.4 351.67,201.4 352.14,201.4 352.61,201.4 353.08,201.4 353.55,201.4 354.02,201.4 354.49,201.4 354.96,201.4 355.43,201.4 355.9,201.4 356.37,201.4 356.84,201.4 357.31,201.4 357.78,201.4 358.25,201.4 358.72,201.4 359.19,201.4 359.66,201.4 360.13,201.4 360.6,201.4 361.07,201.4 361.54,201.4 362.01,201.4 362.48,201.4 362.95,201.4 363.42,201.4 363.89,201.4 364.36,201.4 364.83,201.4 365.3,201.4 365.77,201.4 366.24,201.4 366.71,201.4 367.18,201.4 367.65,201.4 368.12,201.4 368.59,201.4 369.06,201.4 369.53,201.4 370,201.4 370.47,201.4 370.94,201.4 371.41,201.4 371.88,201.4 372.35,201.4 372.82,201.4 373.29,201.4 373.76,201.4 374.23,201.4 374.7,201.4 375.17,201.4 375.64,201.4 376.11,201.4 376.58,201.4 377.05,201.4 377.52,201.4 377.99,201.4 378.46,201.4 378.93,201.4 379.4,201.4 379.87,201.4 380.34,201.4 380.81,201.4 381.28,201.4 381.75,201.4 382.22,201.4 382.69,201.4 383.16,201.4 383.63,201.4 384.1,201.4 384.57,201.4 385.04,201.4 385.51,201.4 385.98,201.4 386.45,201.4 386.92,201.4 387.39,201.4 387.86,201.4 388.33,201.4 388.8,201.4 389.27,201.4 389.74,201.4 390.21,201.4 390.68,201.4 391.15,201.4 391.62,201.4 392.09,201.4 392.56,201.4 393.03,201.4 393.5,201.4 393.97,201.4 394.44,201.4 394.91,201.4 395.38,201.4 395.85,201.4 396.32,201.4 396.79,201.4 397.26,201.4 397.73,200.48 398.2,199.85 398.67,198.74 399.14,193.59 399.61,191.29 400.08,195.92 400.55,195.53 401.02,188.38 401.49,187.56 401.96,194.43 402.43,194.94 402.9,189.04 403.37,190.1 403.84,196.47 404.31,196.78 404.78,192.04 405.25,192.29 405.72,197.13 406.19,197.25 406.66,193.01 407.13,193.25 407.6,197.59 408.07,197.81 408.54,194.47 409.01,195 409.48,198.57 409.95,198.83 410.42,196.5 410.89,196.09 411.36,198.64 411.83,198.45 412.3,194.86 412.77,193.59 413.24,196.62 413.71,195.61 414.18,187.25 414.65,185.14 415.12,186.67 415.59,183.86 416.06,181.06 416.53,178.25 417,175.57 417.47,173.39 417.94,171.22 418.41,169.04 418.88,166.87 419.35,162.78 419.82,157.4 420.29,148.2 420.76,153.4 421.23,141.4 421.7,128.6 422.17,149.4 422.64,157.4 423.11,165.4 423.58,184.74 424.05,189.2 424.52,185.2 424.99,181.2 425.46,177.2 425.93,174.23 426.4,171.71 426.87,169.19 427.34,166.66 427.81,163 428.28,158.2 428.75,153.4 429.22,141.4 429.69,149.4 430.16,126 430.63,145.4 431.1,141.4 431.57,128.6 432.04,153.4 432.51,157.4 432.98,161.4 433.45,168.07 433.92,181.61 434.39,200.13 434.86,201.4 435.33,201.4 435.8,201.4 436.27,201.4 436.74,201.4 437.21,201.4 437.68,201.4 438.15,201.4 438.62,201.4 439.09,201.4 439.56,201.4 440.03,201.4 440.5,201.4 440.97,201.4 441.44,201.4 441.91,201.4 442.38,201.4 442.85,201.4 443.32,201.4 443.79,201.4 444.26,201.4 444.73,201.4 445.2,201.4 445.67,201.4 446.14,201.4 446.61,201.4 447.08,201.4 447.55,201.4 448.02,201.4 448.49,201.4 448.96,201.4 449.43,201.4 449.9,201.4 450.37,201.4 450.84,201.4 451.31,201.4 451.78,201.4 452.25,201.4 452.72,201.4 453.19,201.4 453.66,201.4 454.13,201.4 454.6,201.4 455.07,201.4 455.54,201.4 456.01,201.4 456.48,201.4 456.95,201.4 457.42,201.4 457.89,201.4 458.36,201.4 458.83,201.4 459.3,201.4 459.77,201.4 460.24,201.4 460.71,201.4 461.18,201.4 461.65,201.4 462.12,201.4 462.59,201.4 463.06,201.4 463.53,201.4 464,201.4 464.47,201.4 464.94,201.4 465.41,201.4 465.88,201.4 466.35,201.4 466.35,201.4 346.5,201.4" fill="#ff0000" fill-opacity="0.75"/><polygon points="346.5,201.4 346.97,201.4 347.44,201.4 347.91,201.4 348.38,201.4 348.85,201.4 349.32,201.4 349.79,201.4 350.26,201.4 350.73,201.4 351.2,201.4 351.67,201.4 352.14,201.4 352.61,201.4 353.08,201.4 353.55,201.4 354.02,201.4 354.49,201.4 354.96,201.4 355.43,201.4 355.9,201.4 356.37,201.4 356.84,201.4 357.31,201.4 357.78,201.4 358.25,201.4 358.72,201.4 359.19,201.4 359.66,201.4 360.13,200.85 360.6,200.07 361.07,199.29 361.54,198.5 362.01,197.71 362.48,196.77 362.95,195.83 363.42,194.9 363.89,193.96 364.36,193.4 364.83,193.4 365.3,193.4 365.77,193.4 366.24,193.4 366.71,193.4 367.18,193.4 367.65,193.4 368.12,193.53 368.59,193.71 369.06,195.24 369.53,194.98 370,193.7 370.47,193.5 370.94,193.4 371.41,193.4 371.88,193.4 372.35,193.4 372.82,193.4 373.29,193.4 373.76,193.54 374.23,193.9 374.7,194.25 375.17,194.61 375.64,194.96 376.11,195.32 376.58,195.64 377.05,195.86 377.52,196.08 377.99,196.3 378.46,196.51 378.93,196.73 379.4,196.95 379.87,197.17 380.34,197.38 380.81,197.6 381.28,197.73 381.75,197.86 382.22,197.98 382.69,198.11 383.16,198.24 383.63,198.37 384.1,198.5 384.57,198.58 385.04,198.48 385.51,198.37 385.98,198.27 386.45,198.16 386.92,198.06 387.39,197.96 387.86,197.85 388.33,197.49 388.8,196.86 389.27,196.24 389.74,195.62 390.21,194.99 390.68,194.37 391.15,193.75 391.62,193.12 392.09,192.5 392.56,191.75 393.03,190.52 393.5,189.29 393.97,188.05 394.44,186.82 394.91,185.71 395.38,184.73 395.85,183.76 396.32,182.78 396.79,181.8 397.26,181.23 397.73,180.66 398.2,180.09 398.67,179.51 399.14,178.94 399.61,178.37 400.08,177.23 400.55,175.83 401.02,174.44 401.49,173.05 401.96,171.67 402.43,170.41 402.9,169.15 403.37,167.89 403.84,166.63 404.31,165.34 404.78,164.03 405.25,162.71 405.72,161.4 406.19,159.99 406.66,159.92 407.13,163 407.6,169.55 408.07,176.09 408.54,178.9 409.01,180.77 409.48,182.64 409.95,184.51 410.42,186.3 410.89,187.26 411.36,188.23 411.83,189.2 412.3,188.24 412.77,187.29 413.24,186.33 413.71,185.37 414.18,184.71 414.65,184.49 415.12,184.28 415.59,184.06 416.06,183.84 416.53,183.62 417,183.4 417.47,183.6 417.94,183.8 418.41,184 418.88,184.2 419.35,184.4 419.82,184.6 420.29,184.8 420.76,185 421.23,185.2 421.7,185.4 422.17,185.5 422.64,185.6 423.11,185.7 423.58,185.8 424.05,185.9 424.52,186 424.99,186.1 425.46,186.2 425.93,186.3 426.4,186.4 426.87,184.85 427.34,183.29 427.81,181.74 428.28,180.19 428.75,178.64 429.22,177.08 429.69,175.53 430.16,173.85 430.63,171.98 431.1,170.11 431.57,168.24 432.04,166.37 432.51,164.5 432.98,163.09 433.45,163.55 433.92,164.02 434.39,164.26 434.86,164.36 435.33,164.53 435.8,164.74 436.27,164.95 436.74,165.16 437.21,165.37 437.68,165.58 438.15,165.79 438.62,166 439.09,166.19 439.56,166.38 440.03,166.56 440.5,169.8 440.97,173.8 441.44,177.8 441.91,180.94 442.38,183.7 442.85,186.47 443.32,189.23 443.79,192 444.26,193.43 444.73,194.87 445.2,196.3 445.67,197.74 446.14,198.84 446.61,199.45 447.08,200.06 447.55,200.67 448.02,201.28 448.49,201.4 448.96,201.4 449.43,201.4 449.9,201.4 450.37,201.4 450.84,201.4 451.31,201.4 451.78,201.4 452.25,201.4 452.72,201.4 453.19,201.4 453.66,201.4 454.13,201.4 454.6,201.4 455.07,201.4 455.54,201.4 456.01,201.4 456.48,201.4 456.95,201.4 457.42,201.4 457.89,201.4 458.36,201.4 458.83,201.4 459.3,201.4 459.77,201.4 460.24,201.4 460.71,201.4 461.18,201.4 461.65,201.4 462.12,201.4 462.59,201.4 463.06,201.4 463.53,201.4 464,201.4 464.47,201.4 464.94,201.4 465.41,201.4 465.88,201.4 466.35,201.4 466.35,201.4 346.5,201.4" fill="#0000ff" fill-opacity="0.88"/><polyline points="397.26,201.4 397.73,200.48 398.2,199.85 398.67,198.74 399.14,193.59 399.61,191.29 400.08,195.92 400.55,195.53 401.02,188.38 401.49,187.56 401.96,194.43 402.43,194.94 402.9,189.04 403.37,190.1 403.84,196.47 404.31,196.78 404.78,192.04 405.25,192.29 405.72,197.13 406.19,197.25 406.66,193.01 407.13,193.25 407.6,197.59 408.07,197.81 408.54,194.47 409.01,195 409.48,198.57 409.95,198.83 410.42,196.5 410.89,196.09 411.36,198.64 411.83,198.45 412.3,194.86 412.77,193.59 413.24,196.62 413.71,195.61 414.18,187.25 414.65,185.14 415.12,186.67 415.59,183.86 416.06,181.06 416.53,178.25 417,175.57 417.47,173.39 417.94,171.22 418.41,169.04 418.88,166.87 419.35,162.78 419.82,157.4 420.29,148.2 420.76,153.4 421.23,141.4 421.7,128.6 422.17,149.4 422.64,157.4 423.11,165.4 423.58,184.74 424.05,189.2 424.52,185.2 424.99,181.2 425.46,177.2 425.93,174.23 426.4,171.71 426.87,169.19 427.34,166.66 427.81,163 428.28,158.2 428.75,153.4 429.22,141.4 429.69,149.4 430.16,126 430.63,145.4 431.1,141.4 431.57,128.6 432.04,153.4 432.51,157.4 432.98,161.4 433.45,168.07 433.92,181.61 434.39,200.13 434.86,201.4" fill="none" stroke="#ff1010" stroke-width="0.9" stroke-opacity="0.9" stroke-linejoin="round"/><polyline points="384.1,201.4 384.57,199 385.04,200.2 385.51,199.85 385.98,194.48 386.45,193.76 386.92,199.35 387.39,199.26 387.86,192.48 388.33,192.11 388.8,198.99 389.27,198.9 389.74,191.08 390.21,190.87 390.68,198.72 391.15,198.66 391.62,190.25 392.09,190.05 392.56,198.57 393.03,198.8 393.5,191.92 393.97,192.85 394.44,199.5 394.91,199.73 395.38,195.64 395.85,195.96 396.32,200.12 396.79,200.2 397.26,196.92 397.73,197.24 398.2,200.44 398.67,199.04 399.14,199.08 399.61,199.12 400.08,199.16 400.55,199.2 401.02,199.24 401.49,199.28 401.96,199.32 402.43,199.36 402.9,199.4 403.37,199.3 403.84,199.2 404.31,199.1 404.78,199 405.25,198.9 405.72,198.8 406.19,198.7 406.66,198.6 407.13,198.5 407.6,198.4 408.07,198.07 408.54,197.73 409.01,197.4 409.48,197.07 409.95,196.73 410.42,196.4 410.89,195.42 411.36,194.44 411.83,193.47 412.3,192.49 412.77,190.41 413.24,187.24 413.71,184.07 414.18,180.89 414.65,177.72 415.12,174.17 415.59,170.58 416.06,166.99 416.53,163.4 417,161.08 417.47,159.92 417.94,169.12 418.41,177.62 418.88,179.84 419.35,182.06 419.82,184.27 420.29,186.49 420.76,187.14 421.23,186.21 421.7,185.29 422.17,184.36 422.64,183.44 423.11,182.51 423.58,181.59 424.05,180.66 424.52,179.74 424.99,178.84 425.46,178.06 425.93,177.28 426.4,176.5 426.87,175.71 427.34,174.93 427.81,174.15 428.28,173.37 428.75,172.58 429.22,171.8 429.69,171.09 430.16,170.38 430.63,169.67 431.1,168.96 431.57,168.25 432.04,167.54 432.51,169.1 432.98,171.23 433.45,173.36 433.92,175.49 434.39,177.87 434.86,182.58 435.33,187.29 435.8,192 436.27,194.73 436.74,197.47 437.21,200.2 437.68,201.4" fill="none" stroke="#107010" stroke-width="0.6" stroke-opacity="0.9" stroke-linejoin="round"/></g></svg><path d="M346.4,205.3 L346.4,122.5 L467.6,122.5 L467.6,205.3" fill="none" stroke="#7c7c7c" stroke-width="0.9"/><line x1="346.4" y1="205.3" x2="467.6" y2="205.3" stroke="#c4c4c4" stroke-width="0.9"/><line x1="345" y1="201.4" x2="346.4" y2="201.4" stroke="#555" stroke-width="0.5"/><text x="344.2" y="202.4" class="t" text-anchor="end">0</text><line x1="345" y1="191.4" x2="346.4" y2="191.4" stroke="#555" stroke-width="0.5"/><text x="344.2" y="192.4" class="t" text-anchor="end">5,000</text><line x1="345" y1="181.4" x2="346.4" y2="181.4" stroke="#555" stroke-width="0.5"/><text x="344.2" y="182.4" class="t" text-anchor="end">10,000</text><line x1="345" y1="171.4" x2="346.4" y2="171.4" stroke="#555" stroke-width="0.5"/><text x="344.2" y="172.4" class="t" text-anchor="end">15,000</text><line x1="345" y1="161.4" x2="346.4" y2="161.4" stroke="#555" stroke-width="0.5"/><text x="344.2" y="162.4" class="t" text-anchor="end">20,000</text><line x1="345" y1="151.4" x2="346.4" y2="151.4" stroke="#555" stroke-width="0.5"/><text x="344.2" y="152.4" class="t" text-anchor="end">25,000</text><line x1="345" y1="141.4" x2="346.4" y2="141.4" stroke="#555" stroke-width="0.5"/><text x="344.2" y="142.4" class="t" text-anchor="end">30,000</text><line x1="345" y1="131.4" x2="346.4" y2="131.4" stroke="#555" stroke-width="0.5"/><text x="344.2" y="132.4" class="t" text-anchor="end">35,000</text><line x1="346.5" y1="205.3" x2="346.5" y2="206.7" stroke="#555" stroke-width="0.5"/><text x="346.5" y="211.9" class="t" text-anchor="middle">0</text><line x1="370" y1="205.3" x2="370" y2="206.7" stroke="#555" stroke-width="0.5"/><text x="370" y="211.9" class="t" text-anchor="middle">50</text><line x1="393.5" y1="205.3" x2="393.5" y2="206.7" stroke="#555" stroke-width="0.5"/><text x="393.5" y="211.9" class="t" text-anchor="middle">100</text><line x1="417" y1="205.3" x2="417" y2="206.7" stroke="#555" stroke-width="0.5"/><text x="417" y="211.9" class="t" text-anchor="middle">150</text><line x1="440.5" y1="205.3" x2="440.5" y2="206.7" stroke="#555" stroke-width="0.5"/><text x="440.5" y="211.9" class="t" text-anchor="middle">200</text><line x1="464" y1="205.3" x2="464" y2="206.7" stroke="#555" stroke-width="0.5"/><text x="464" y="211.9" class="t" text-anchor="middle">250</text><rect x="483.8" y="119.0" width="141" height="94.7" fill="#fff" stroke="#d8d8d8" stroke-width="0.9"/><svg x="501.5" y="122.5" width="120.9" height="82.6" overflow="hidden"><g transform="translate(-501.5,-122.5)"><line x1="501.6" y1="201.1" x2="622.4" y2="201.1" stroke="#8cbc80" stroke-width="1"/><polygon points="501.6,201.1 502.07,201.1 502.54,201.1 503,201.1 503.47,201.1 503.94,201.1 504.41,201.1 504.88,201.1 505.34,201.1 505.81,201.1 506.28,201.1 506.75,201.1 507.22,201.1 507.68,201.1 508.15,201.1 508.62,201.1 509.09,201.1 509.56,201.1 510.02,201.1 510.49,201.1 510.96,201.1 511.43,201.1 511.9,201.1 512.36,201.1 512.83,201.1 513.3,201.1 513.77,201.1 514.24,201.1 514.7,201.1 515.17,201.1 515.64,201.1 516.11,201.1 516.58,201.1 517.04,201.1 517.51,201.1 517.98,201.1 518.45,201.1 518.92,201.1 519.38,201.1 519.85,201.1 520.32,201.1 520.79,201.1 521.26,201.1 521.72,201.1 522.19,201.1 522.66,201.1 523.13,201.1 523.6,201.1 524.06,201.1 524.53,201.1 525,201.1 525.47,201.1 525.94,201.1 526.4,201.1 526.87,201.1 527.34,201.1 527.81,201.1 528.28,201.1 528.74,201.1 529.21,201.1 529.68,201.1 530.15,201.1 530.62,201.1 531.08,201.1 531.55,201.1 532.02,201.1 532.49,201.1 532.96,201.1 533.42,201.1 533.89,201.1 534.36,201.1 534.83,201.1 535.3,201.1 535.76,201.1 536.23,201.1 536.7,199.66 537.17,198.21 537.64,197.66 538.1,197.48 538.57,197.3 539.04,197.12 539.51,196.94 539.98,196.76 540.44,196.58 540.91,196.41 541.38,196.23 541.85,196.09 542.32,196.01 542.78,195.93 543.25,195.85 543.72,195.77 544.19,195.69 544.66,195.67 545.12,195.9 545.59,196.13 546.06,196.36 546.53,196.59 547,196.82 547.46,197.05 547.93,197.27 548.4,197.5 548.87,197.73 549.34,197.81 549.8,197.85 550.27,197.89 550.74,197.92 551.21,197.96 551.68,198 552.14,198.04 552.61,198.07 553.08,198.11 553.55,198.09 554.02,198.06 554.48,198.03 554.95,198.01 555.42,197.98 555.89,197.96 556.36,197.93 556.82,197.91 557.29,197.88 557.76,197.85 558.23,197.83 558.7,197.8 559.16,197.64 559.63,196.21 560.1,194.77 560.57,193.34 561.04,191.47 561.5,185.66 561.97,179.85 562.44,180.7 562.91,185.98 563.38,187.65 563.84,183.9 564.31,180.15 564.78,176.73 565.25,174.06 565.72,171.39 566.18,168.72 566.65,166.05 567.12,167.68 567.59,171.16 568.06,174.64 568.52,178.57 568.99,182.8 569.46,187.03 569.93,189.46 570.4,190.08 570.86,190.69 571.33,191.31 571.8,191.93 572.27,191.29 572.74,190.33 573.2,189.38 573.67,188.42 574.14,187.34 574.61,185.79 575.08,184.24 575.54,182.68 576.01,181.13 576.48,175.67 576.95,166.31 577.42,156.94 577.88,164.25 578.35,168.77 578.82,170.5 579.29,171.44 579.76,170.53 580.22,169.62 580.69,169.14 581.16,170.34 581.63,171.54 582.1,172.74 582.56,173.94 583.03,174.23 583.5,173.62 583.97,173.01 584.44,172.39 584.9,171.78 585.37,174.66 585.84,177.92 586.31,181.19 586.78,186.38 587.24,192.06 587.71,197.74 588.18,200.41 588.65,201.1 589.12,201.1 589.58,201.1 590.05,201.1 590.52,201.1 590.99,201.1 591.46,201.1 591.92,201.1 592.39,201.1 592.86,201.1 593.33,201.1 593.8,201.1 594.26,201.1 594.73,201.1 595.2,201.1 595.67,201.1 596.14,201.1 596.6,201.1 597.07,201.1 597.54,201.1 598.01,201.1 598.48,201.1 598.94,201.1 599.41,201.1 599.88,201.1 600.35,201.1 600.82,201.1 601.28,201.1 601.75,201.1 602.22,201.1 602.69,201.1 603.16,201.1 603.62,201.1 604.09,201.1 604.56,201.1 605.03,201.1 605.5,201.1 605.96,201.1 606.43,201.1 606.9,201.1 607.37,201.1 607.84,201.1 608.3,201.1 608.77,201.1 609.24,201.1 609.71,201.1 610.18,201.1 610.64,201.1 611.11,201.1 611.58,201.1 612.05,201.1 612.52,201.1 612.98,201.1 613.45,201.1 613.92,201.1 614.39,201.1 614.86,201.1 615.32,201.1 615.79,201.1 616.26,201.1 616.73,201.1 617.2,201.1 617.66,201.1 618.13,201.1 618.6,201.1 619.07,201.1 619.54,201.1 620,201.1 620.47,201.1 620.94,201.1 620.94,201.1 501.6,201.1" fill="#008000" fill-opacity="0.78"/><polygon points="501.6,201.1 502.07,201.1 502.54,201.1 503,201.1 503.47,201.1 503.94,201.1 504.41,201.1 504.88,201.1 505.34,201.1 505.81,201.1 506.28,201.1 506.75,201.1 507.22,201.1 507.68,201.1 508.15,201.1 508.62,201.1 509.09,201.1 509.56,201.1 510.02,201.1 510.49,201.1 510.96,201.1 511.43,201.1 511.9,201.1 512.36,201.1 512.83,201.1 513.3,201.1 513.77,201.1 514.24,201.1 514.7,201.1 515.17,201.1 515.64,201.1 516.11,201.1 516.58,201.1 517.04,201.1 517.51,201.1 517.98,201.1 518.45,201.1 518.92,201.1 519.38,201.1 519.85,201.1 520.32,201.1 520.79,201.1 521.26,201.1 521.72,201.1 522.19,201.1 522.66,201.1 523.13,201.1 523.6,201.1 524.06,201.1 524.53,201.1 525,201.1 525.47,201.1 525.94,201.1 526.4,201.1 526.87,201.1 527.34,201.1 527.81,201.1 528.28,201.1 528.74,201.1 529.21,201.1 529.68,201.1 530.15,201.1 530.62,201.1 531.08,201.1 531.55,201.1 532.02,201.1 532.49,201.1 532.96,201.1 533.42,201.1 533.89,201.1 534.36,201.1 534.83,201.1 535.3,201.1 535.76,201.1 536.23,201.1 536.7,201.1 537.17,201.1 537.64,201.1 538.1,201.1 538.57,201.1 539.04,201.1 539.51,201.1 539.98,201.1 540.44,201.1 540.91,201.1 541.38,201.1 541.85,201.1 542.32,201.1 542.78,201.1 543.25,201.1 543.72,201.1 544.19,201.1 544.66,201.1 545.12,201.1 545.59,201.1 546.06,201.1 546.53,201.1 547,201.1 547.46,201.1 547.93,201.1 548.4,201.1 548.87,201.1 549.34,201.1 549.8,201.1 550.27,201.1 550.74,200.98 551.21,200.8 551.68,200.63 552.14,200.45 552.61,200.28 553.08,200.1 553.55,199.76 554.02,199.41 554.48,199.06 554.95,198.72 555.42,198.37 555.89,198.02 556.36,197.61 556.82,197.05 557.29,196.49 557.76,195.92 558.23,195.36 558.7,194.8 559.16,194.27 559.63,194.02 560.1,193.78 560.57,193.53 561.04,193.29 561.5,193.04 561.97,192.8 562.44,193.49 562.91,194.18 563.38,194.86 563.84,195.55 564.31,195.84 564.78,196.08 565.25,196.32 565.72,196.56 566.18,196.8 566.65,197.04 567.12,197.19 567.59,197.3 568.06,197.41 568.52,197.51 568.99,197.62 569.46,197.73 569.93,197.41 570.4,196.67 570.86,195.93 571.33,195.18 571.8,194.44 572.27,193.4 572.74,192.28 573.2,191.16 573.67,190.04 574.14,188.96 574.61,188.02 575.08,187.09 575.54,186.15 576.01,185.21 576.48,184.28 576.95,183.34 577.42,181.51 577.88,179.69 578.35,177.86 578.82,176.2 579.29,174.54 579.76,171.22 580.22,148.81 580.69,167.9 581.16,166.24 581.63,164.58 582.1,157.94 582.56,143.83 583.03,167.9 583.5,171.6 583.97,175.31 584.44,176.75 584.9,174.82 585.37,172.88 585.84,171.22 586.31,169.56 586.78,168.73 587.24,167.9 587.71,164.58 588.18,156.94 588.65,166.24 589.12,164.58 589.58,156.28 590.05,138.68 590.52,159.6 590.99,156.28 591.46,125.57 591.92,154.62 592.39,157.94 592.86,161.26 593.33,150.97 593.8,181.18 594.26,191.78 594.73,196.12 595.2,197.78 595.67,199.44 596.14,200.65 596.6,201.1 597.07,201.1 597.54,201.1 598.01,201.1 598.48,201.1 598.94,201.1 599.41,201.1 599.88,201.1 600.35,201.1 600.82,201.1 601.28,201.1 601.75,201.1 602.22,201.1 602.69,201.1 603.16,201.1 603.62,201.1 604.09,201.1 604.56,201.1 605.03,201.1 605.5,201.1 605.96,201.1 606.43,201.1 606.9,201.1 607.37,201.1 607.84,201.1 608.3,201.1 608.77,201.1 609.24,201.1 609.71,201.1 610.18,201.1 610.64,201.1 611.11,201.1 611.58,201.1 612.05,201.1 612.52,201.1 612.98,201.1 613.45,201.1 613.92,201.1 614.39,201.1 614.86,201.1 615.32,201.1 615.79,201.1 616.26,201.1 616.73,201.1 617.2,201.1 617.66,201.1 618.13,201.1 618.6,201.1 619.07,201.1 619.54,201.1 620,201.1 620.47,201.1 620.94,201.1 620.94,201.1 501.6,201.1" fill="#ff0000" fill-opacity="0.75"/><polygon points="501.6,201.1 502.07,201.1 502.54,201.1 503,201.1 503.47,201.1 503.94,201.1 504.41,201.1 504.88,201.1 505.34,201.1 505.81,201.1 506.28,201.1 506.75,201.1 507.22,201.1 507.68,201.1 508.15,201.1 508.62,201.1 509.09,201.1 509.56,201.1 510.02,201.1 510.49,201.1 510.96,201.1 511.43,201.1 511.9,201.1 512.36,201.1 512.83,201.1 513.3,201.1 513.77,201.1 514.24,201.1 514.7,201.1 515.17,200.17 515.64,199 516.11,197.84 516.58,196.67 517.04,196.96 517.51,195.19 517.98,194.79 518.45,194.39 518.92,193.99 519.38,193.85 519.85,195.74 520.32,194.06 520.79,194.17 521.26,194.27 521.72,194.38 522.19,194.49 522.66,196.22 523.13,194.55 523.6,194.44 524.06,194.33 524.53,194.23 525,194.12 525.47,195.78 525.94,193.9 526.4,193.8 526.87,194.03 527.34,194.26 527.81,194.5 528.28,196.32 528.74,194.97 529.21,195.2 529.68,195.43 530.15,195.67 530.62,195.93 531.08,197.41 531.55,196.44 532.02,196.69 532.49,196.95 532.96,197.21 533.42,197.46 533.89,198.55 534.36,197.93 534.83,198.16 535.3,198.39 535.76,198.62 536.23,198.84 536.7,199.51 537.17,198.73 537.64,198.48 538.1,198.23 538.57,197.98 539.04,197.74 539.51,198.39 539.98,197.24 540.44,196.79 540.91,196.14 541.38,195.49 541.85,194.84 542.32,195.92 542.78,193.55 543.25,192.9 543.72,192.25 544.19,191.46 544.66,190.61 545.12,192.59 545.59,188.9 546.06,188.05 546.53,187.2 547,186.35 547.46,185.5 547.93,189.05 548.4,184.56 548.87,184.09 549.34,183.62 549.8,183.15 550.27,182.69 550.74,186.94 551.21,181.57 551.68,180.17 552.14,178.78 552.61,177.39 553.08,176 553.55,181.23 554.02,173.21 554.48,171.66 554.95,170.1 555.42,168.55 555.89,167 556.36,174.91 556.82,167.09 557.29,168 557.76,169.86 558.23,175.52 558.7,181.18 559.16,189.56 559.63,190.24 560.1,192.9 560.57,194.32 561.04,195.74 561.5,196.19 561.97,197.01 562.44,195.12 562.91,194.58 563.38,194.05 563.84,193.52 564.31,192.4 564.78,193.69 565.25,190.05 565.72,188.87 566.18,187.69 566.65,186.51 567.12,187.04 567.59,191.49 568.06,189.55 568.52,190.8 568.99,192.05 569.46,191.75 569.93,191.44 570.4,193.62 570.86,190.83 571.33,190.17 571.8,188.99 572.27,187.81 572.74,186.64 573.2,189.37 573.67,184.28 574.14,183.15 574.61,182.24 575.08,181.32 575.54,180.4 576.01,184.89 576.48,178.55 576.95,177.59 577.42,176.64 577.88,175.68 578.35,174.73 578.82,180.7 579.29,173.09 579.76,172.29 580.22,171.49 580.69,170.68 581.16,169.88 581.63,177.59 582.1,170.08 582.56,170.4 583.03,170.73 583.5,171.05 583.97,171.16 584.44,178.73 584.9,171.38 585.37,171.48 585.84,171.59 586.31,171.7 586.78,173.95 587.24,182.83 587.71,179.53 588.18,182.32 588.65,185.02 589.12,186.9 589.58,188.77 590.05,193.26 590.52,192.53 590.99,193.88 591.46,194.71 591.92,195.54 592.39,196.37 592.86,198.17 593.33,198.03 593.8,198.77 594.26,199.3 594.73,199.83 595.2,200.36 595.67,200.94 596.14,201.1 596.6,201.1 597.07,201.1 597.54,201.1 598.01,201.1 598.48,201.1 598.94,201.1 599.41,201.1 599.88,201.1 600.35,201.1 600.82,201.1 601.28,201.1 601.75,201.1 602.22,201.1 602.69,201.1 603.16,201.1 603.62,201.1 604.09,201.1 604.56,201.1 605.03,201.1 605.5,201.1 605.96,201.1 606.43,201.1 606.9,201.1 607.37,201.1 607.84,201.1 608.3,201.1 608.77,201.1 609.24,201.1 609.71,201.1 610.18,201.1 610.64,201.1 611.11,201.1 611.58,201.1 612.05,201.1 612.52,201.1 612.98,201.1 613.45,201.1 613.92,201.1 614.39,201.1 614.86,201.1 615.32,201.1 615.79,201.1 616.26,201.1 616.73,201.1 617.2,201.1 617.66,201.1 618.13,201.1 618.6,201.1 619.07,201.1 619.54,201.1 620,201.1 620.47,201.1 620.94,201.1 620.94,201.1 501.6,201.1" fill="#0000ff" fill-opacity="0.88"/><polyline points="550.27,201.1 550.74,200.98 551.21,200.8 551.68,200.63 552.14,200.45 552.61,200.28 553.08,200.1 553.55,199.76 554.02,199.41 554.48,199.06 554.95,198.72 555.42,198.37 555.89,198.02 556.36,197.61 556.82,197.05 557.29,196.49 557.76,195.92 558.23,195.36 558.7,194.8 559.16,194.27 559.63,194.02 560.1,193.78 560.57,193.53 561.04,193.29 561.5,193.04 561.97,192.8 562.44,193.49 562.91,194.18 563.38,194.86 563.84,195.55 564.31,195.84 564.78,196.08 565.25,196.32 565.72,196.56 566.18,196.8 566.65,197.04 567.12,197.19 567.59,197.3 568.06,197.41 568.52,197.51 568.99,197.62 569.46,197.73 569.93,197.41 570.4,196.67 570.86,195.93 571.33,195.18 571.8,194.44 572.27,193.4 572.74,192.28 573.2,191.16 573.67,190.04 574.14,188.96 574.61,188.02 575.08,187.09 575.54,186.15 576.01,185.21 576.48,184.28 576.95,183.34 577.42,181.51 577.88,179.69 578.35,177.86 578.82,176.2 579.29,174.54 579.76,171.22 580.22,148.81 580.69,167.9 581.16,166.24 581.63,164.58 582.1,157.94 582.56,143.83 583.03,167.9 583.5,171.6 583.97,175.31 584.44,176.75 584.9,174.82 585.37,172.88 585.84,171.22 586.31,169.56 586.78,168.73 587.24,167.9 587.71,164.58 588.18,156.94 588.65,166.24 589.12,164.58 589.58,156.28 590.05,138.68 590.52,159.6 590.99,156.28 591.46,125.57 591.92,154.62 592.39,157.94 592.86,161.26 593.33,150.97 593.8,181.18 594.26,191.78 594.73,196.12 595.2,197.78 595.67,199.44 596.14,200.65 596.6,201.1" fill="none" stroke="#ff1010" stroke-width="0.9" stroke-opacity="0.9" stroke-linejoin="round"/><polyline points="536.23,201.1 536.7,199.66 537.17,198.21 537.64,197.66 538.1,197.48 538.57,197.3 539.04,197.12 539.51,196.94 539.98,196.76 540.44,196.58 540.91,196.41 541.38,196.23 541.85,196.09 542.32,196.01 542.78,195.93 543.25,195.85 543.72,195.77 544.19,195.69 544.66,195.67 545.12,195.9 545.59,196.13 546.06,196.36 546.53,196.59 547,196.82 547.46,197.05 547.93,197.27 548.4,197.5 548.87,197.73 549.34,197.81 549.8,197.85 550.27,197.89 550.74,197.92 551.21,197.96 551.68,198 552.14,198.04 552.61,198.07 553.08,198.11 553.55,198.09 554.02,198.06 554.48,198.03 554.95,198.01 555.42,197.98 555.89,197.96 556.36,197.93 556.82,197.91 557.29,197.88 557.76,197.85 558.23,197.83 558.7,197.8 559.16,197.64 559.63,196.21 560.1,194.77 560.57,193.34 561.04,191.47 561.5,185.66 561.97,179.85 562.44,180.7 562.91,185.98 563.38,187.65 563.84,183.9 564.31,180.15 564.78,176.73 565.25,174.06 565.72,171.39 566.18,168.72 566.65,166.05 567.12,167.68 567.59,171.16 568.06,174.64 568.52,178.57 568.99,182.8 569.46,187.03 569.93,189.46 570.4,190.08 570.86,190.69 571.33,191.31 571.8,191.93 572.27,191.29 572.74,190.33 573.2,189.38 573.67,188.42 574.14,187.34 574.61,185.79 575.08,184.24 575.54,182.68 576.01,181.13 576.48,175.67 576.95,166.31 577.42,156.94 577.88,164.25 578.35,168.77 578.82,170.5 579.29,171.44 579.76,170.53 580.22,169.62 580.69,169.14 581.16,170.34 581.63,171.54 582.1,172.74 582.56,173.94 583.03,174.23 583.5,173.62 583.97,173.01 584.44,172.39 584.9,171.78 585.37,174.66 585.84,177.92 586.31,181.19 586.78,186.38 587.24,192.06 587.71,197.74 588.18,200.41 588.65,201.1" fill="none" stroke="#107010" stroke-width="0.6" stroke-opacity="0.9" stroke-linejoin="round"/></g></svg><path d="M501.5,205.1 L501.5,122.5 L622.4,122.5 L622.4,205.1" fill="none" stroke="#7c7c7c" stroke-width="0.9"/><line x1="501.5" y1="205.1" x2="622.4" y2="205.1" stroke="#c4c4c4" stroke-width="0.9"/><line x1="500.1" y1="201.1" x2="501.5" y2="201.1" stroke="#555" stroke-width="0.5"/><text x="499.3" y="202.1" class="t" text-anchor="end">0</text><line x1="500.1" y1="184.5" x2="501.5" y2="184.5" stroke="#555" stroke-width="0.5"/><text x="499.3" y="185.5" class="t" text-anchor="end">10,000</text><line x1="500.1" y1="167.9" x2="501.5" y2="167.9" stroke="#555" stroke-width="0.5"/><text x="499.3" y="168.9" class="t" text-anchor="end">20,000</text><line x1="500.1" y1="151.3" x2="501.5" y2="151.3" stroke="#555" stroke-width="0.5"/><text x="499.3" y="152.3" class="t" text-anchor="end">30,000</text><line x1="500.1" y1="134.7" x2="501.5" y2="134.7" stroke="#555" stroke-width="0.5"/><text x="499.3" y="135.7" class="t" text-anchor="end">40,000</text><line x1="501.6" y1="205.1" x2="501.6" y2="206.5" stroke="#555" stroke-width="0.5"/><text x="501.6" y="211.4" class="t" text-anchor="middle">0</text><line x1="525" y1="205.1" x2="525" y2="206.5" stroke="#555" stroke-width="0.5"/><text x="525" y="211.4" class="t" text-anchor="middle">50</text><line x1="548.4" y1="205.1" x2="548.4" y2="206.5" stroke="#555" stroke-width="0.5"/><text x="548.4" y="211.4" class="t" text-anchor="middle">100</text><line x1="571.8" y1="205.1" x2="571.8" y2="206.5" stroke="#555" stroke-width="0.5"/><text x="571.8" y="211.4" class="t" text-anchor="middle">150</text><line x1="595.2" y1="205.1" x2="595.2" y2="206.5" stroke="#555" stroke-width="0.5"/><text x="595.2" y="211.4" class="t" text-anchor="middle">200</text><line x1="618.6" y1="205.1" x2="618.6" y2="206.5" stroke="#555" stroke-width="0.5"/><text x="618.6" y="211.4" class="t" text-anchor="middle">250</text><rect x="638.4" y="119.0" width="140.9" height="94.7" fill="#fff" stroke="#d8d8d8" stroke-width="0.9"/><svg x="656.4" y="122.5" width="120.5" height="82.8" overflow="hidden"><g transform="translate(-656.4,-122.5)"><line x1="656.5" y1="201.4" x2="776.9" y2="201.4" stroke="#8cbc80" stroke-width="1"/><polygon points="656.5,201.4 656.97,201.4 657.43,201.4 657.9,201.4 658.37,201.4 658.84,201.4 659.3,201.4 659.77,201.4 660.24,201.4 660.7,201.4 661.17,201.4 661.64,201.4 662.1,201.4 662.57,201.4 663.04,201.4 663.5,201.4 663.97,201.4 664.44,201.4 664.91,201.4 665.37,201.4 665.84,201.4 666.31,201.4 666.77,201.4 667.24,201.4 667.71,201.4 668.17,201.4 668.64,201.4 669.11,201.4 669.58,201.4 670.04,201.4 670.51,201.4 670.98,201.4 671.44,201.4 671.91,201.4 672.38,201.4 672.85,201.4 673.31,201.4 673.78,201.4 674.25,201.4 674.71,201.4 675.18,201.4 675.65,201.4 676.11,201.4 676.58,201.4 677.05,201.4 677.51,201.4 677.98,201.4 678.45,201.4 678.92,201.4 679.38,201.4 679.85,201.4 680.32,201.4 680.78,201.4 681.25,201.4 681.72,201.4 682.18,201.4 682.65,201.4 683.12,201.4 683.59,201.4 684.05,201.4 684.52,201.4 684.99,201.4 685.45,201.4 685.92,201.4 686.39,201.4 686.86,201.4 687.32,201.4 687.79,201.4 688.26,201.4 688.72,201.4 689.19,201.4 689.66,201.4 690.12,201.4 690.59,201.4 691.06,201.4 691.52,201.4 691.99,201.4 692.46,201.4 692.93,201.4 693.39,201.4 693.86,201.4 694.33,201.4 694.79,201.4 695.26,201.4 695.73,201.4 696.2,201.4 696.66,201.4 697.13,201.4 697.6,201.4 698.06,201.4 698.53,201.4 699,201.4 699.46,201.22 699.93,199.37 700.4,197.53 700.87,195.69 701.33,194.91 701.8,194.14 702.27,193.36 702.73,192.59 703.2,191.81 703.67,191.04 704.13,191.08 704.6,191.32 705.07,191.57 705.53,191.81 706,192.06 706.47,192.42 706.94,192.78 707.4,193.13 707.87,193.49 708.34,193.85 708.8,194.2 709.27,194.48 709.74,194.76 710.21,195.03 710.67,195.3 711.14,195.58 711.61,195.85 712.07,196.12 712.54,196.39 713.01,196.54 713.47,196.7 713.94,196.85 714.41,197.01 714.88,197.16 715.34,197.32 715.81,197.48 716.28,197.63 716.74,197.79 717.21,197.57 717.68,197.26 718.14,196.96 718.61,196.65 719.08,196.26 719.54,195.1 720.01,193.94 720.48,192.79 720.95,191.63 721.41,190.48 721.88,189.32 722.35,188.25 722.81,187.18 723.28,186.11 723.75,185.04 724.22,183.97 724.68,182.9 725.15,182.05 725.62,181.28 726.08,180.52 726.55,179.76 727.02,179 727.48,176.64 727.95,174.28 728.42,171.92 728.88,148.06 729.35,125.66 729.82,142.34 730.29,153.78 730.75,162.03 731.22,167.11 731.69,170.92 732.15,174.73 732.62,179.68 733.09,184.64 733.56,186.98 734.02,189.33 734.49,190.73 734.96,190.73 735.42,190.73 735.89,189.94 736.36,187.29 736.82,184.64 737.29,182.16 737.76,179.68 738.23,177.21 738.69,174.73 739.16,169.65 739.63,164.57 740.09,159.49 740.56,156.63 741.03,153.78 741.49,150.92 741.96,148.06 742.43,148.06 742.89,148.06 743.36,148.06 743.83,146.16 744.3,144.25 744.76,143.11 745.23,141.96 745.7,139.62 746.16,137.27 746.63,138.26 747.1,144.25 747.57,144.25 748.03,144.25 748.5,149.33 748.97,154.41 749.43,159.49 749.9,167.11 750.37,174.73 750.83,180.87 751.3,185.53 751.77,190.18 752.24,194.29 752.7,198.26 753.17,200.98 753.64,201.4 754.1,201.4 754.57,201.4 755.04,201.4 755.5,201.4 755.97,201.4 756.44,201.4 756.9,201.4 757.37,201.4 757.84,201.4 758.31,201.4 758.77,201.4 759.24,201.4 759.71,201.4 760.17,201.4 760.64,201.4 761.11,201.4 761.58,201.4 762.04,201.4 762.51,201.4 762.98,201.4 763.44,201.4 763.91,201.4 764.38,201.4 764.84,201.4 765.31,201.4 765.78,201.4 766.25,201.4 766.71,201.4 767.18,201.4 767.65,201.4 768.11,201.4 768.58,201.4 769.05,201.4 769.51,201.4 769.98,201.4 770.45,201.4 770.91,201.4 771.38,201.4 771.85,201.4 772.32,201.4 772.78,201.4 773.25,201.4 773.72,201.4 774.18,201.4 774.65,201.4 775.12,201.4 775.59,201.4 775.59,201.4 656.5,201.4" fill="#0000ff" fill-opacity="0.8"/><polygon points="656.5,201.4 656.97,201.4 657.43,201.4 657.9,201.4 658.37,201.4 658.84,201.4 659.3,201.4 659.77,201.4 660.24,201.4 660.7,201.4 661.17,201.4 661.64,201.4 662.1,201.4 662.57,201.4 663.04,201.4 663.5,201.4 663.97,201.4 664.44,201.4 664.91,201.4 665.37,201.4 665.84,201.4 666.31,201.4 666.77,201.4 667.24,201.4 667.71,201.4 668.17,201.4 668.64,201.4 669.11,201.4 669.58,201.4 670.04,201.4 670.51,201.4 670.98,201.4 671.44,201.4 671.91,201.4 672.38,201.4 672.85,201.4 673.31,201.4 673.78,201.4 674.25,201.4 674.71,201.4 675.18,201.4 675.65,201.4 676.11,201.4 676.58,201.4 677.05,201.4 677.51,201.4 677.98,201.4 678.45,201.4 678.92,201.4 679.38,201.4 679.85,201.4 680.32,201.4 680.78,201.4 681.25,201.4 681.72,201.4 682.18,201.4 682.65,201.4 683.12,201.4 683.59,201.4 684.05,201.4 684.52,201.4 684.99,201.4 685.45,201.4 685.92,201.4 686.39,201.4 686.86,201.4 687.32,201.4 687.79,201.4 688.26,201.4 688.72,201.4 689.19,201.4 689.66,201.4 690.12,201.4 690.59,201.4 691.06,201.4 691.52,201.4 691.99,201.4 692.46,201.4 692.93,201.4 693.39,201.4 693.86,201.4 694.33,201.4 694.79,201.4 695.26,201.4 695.73,201.4 696.2,201.4 696.66,201.4 697.13,201.4 697.6,201.4 698.06,201.4 698.53,201.4 699,201.4 699.46,201.4 699.93,201.4 700.4,201.4 700.87,201.4 701.33,201.4 701.8,201.4 702.27,201.4 702.73,201.4 703.2,200.99 703.67,199.61 704.13,198.23 704.6,196.85 705.07,195.47 705.53,194.74 706,194.43 706.47,194.12 706.94,193.82 707.4,193.51 707.87,193.2 708.34,192.78 708.8,192.18 709.27,191.59 709.74,190.99 710.21,190.39 710.67,190.82 711.14,191.5 711.61,192.18 712.07,192.86 712.54,193.49 713.01,193.61 713.47,193.73 713.94,193.86 714.41,193.98 714.88,194.1 715.34,194.22 715.81,194.66 716.28,195.12 716.74,195.59 717.21,196.06 717.68,196.53 718.14,196.99 718.61,196.81 719.08,196.35 719.54,195.89 720.01,195.43 720.48,194.97 720.95,194.51 721.41,193.82 721.88,192.77 722.35,191.72 722.81,190.67 723.28,189.62 723.75,188.57 724.22,187.52 724.68,186.47 725.15,185.23 725.62,183.9 726.08,182.57 726.55,181.24 727.02,179.91 727.48,178.58 727.95,177.02 728.42,175.11 728.88,173.21 729.35,171.3 729.82,169.4 730.29,166.86 730.75,164.32 731.22,161.78 731.69,160.57 732.15,160.03 732.62,165.48 733.09,170.92 733.56,175.49 734.02,180.06 734.49,181.52 734.96,182.97 735.42,181.51 735.89,179.72 736.36,177.94 736.82,176.16 737.29,174.73 737.76,174.73 738.23,174.73 738.69,174.73 739.16,170.11 739.63,165.49 740.09,160.88 740.56,157.04 741.03,153.54 741.49,150.04 741.96,146.54 742.43,145.45 742.89,144.36 743.36,143.21 743.83,141.83 744.3,140.44 744.76,126.34 745.23,144.25 745.7,146.79 746.16,149.33 746.63,151.87 747.1,156.95 747.57,162.03 748.03,167.11 748.5,176.63 748.97,186.16 749.43,196.32 749.9,201.4 750.37,201.4 750.83,201.4 751.3,201.4 751.77,201.4 752.24,201.4 752.7,201.4 753.17,201.4 753.64,201.4 754.1,201.4 754.57,201.4 755.04,201.4 755.5,201.4 755.97,201.4 756.44,201.4 756.9,201.4 757.37,201.4 757.84,201.4 758.31,201.4 758.77,201.4 759.24,201.4 759.71,201.4 760.17,201.4 760.64,201.4 761.11,201.4 761.58,201.4 762.04,201.4 762.51,201.4 762.98,201.4 763.44,201.4 763.91,201.4 764.38,201.4 764.84,201.4 765.31,201.4 765.78,201.4 766.25,201.4 766.71,201.4 767.18,201.4 767.65,201.4 768.11,201.4 768.58,201.4 769.05,201.4 769.51,201.4 769.98,201.4 770.45,201.4 770.91,201.4 771.38,201.4 771.85,201.4 772.32,201.4 772.78,201.4 773.25,201.4 773.72,201.4 774.18,201.4 774.65,201.4 775.12,201.4 775.59,201.4 775.59,201.4 656.5,201.4" fill="#ff0000" fill-opacity="0.75"/><polygon points="656.5,201.4 656.97,201.4 657.43,201.4 657.9,201.4 658.37,201.4 658.84,201.4 659.3,201.4 659.77,201.4 660.24,201.4 660.7,201.4 661.17,201.4 661.64,201.4 662.1,201.4 662.57,201.4 663.04,201.4 663.5,201.4 663.97,201.4 664.44,201.4 664.91,201.4 665.37,201.4 665.84,201.4 666.31,201.4 666.77,201.4 667.24,201.4 667.71,201.4 668.17,201.4 668.64,201.4 669.11,201.4 669.58,201.4 670.04,201.4 670.51,201.4 670.98,201.4 671.44,201.4 671.91,201.4 672.38,201.4 672.85,201.4 673.31,201.4 673.78,201.4 674.25,201.4 674.71,201.4 675.18,201.4 675.65,201.4 676.11,201.4 676.58,201.4 677.05,201.4 677.51,201.4 677.98,201.4 678.45,201.4 678.92,201.4 679.38,201.4 679.85,201.4 680.32,201.4 680.78,201.4 681.25,201.4 681.72,201.4 682.18,201.4 682.65,201.4 683.12,201.4 683.59,201.4 684.05,201.4 684.52,201.4 684.99,201.4 685.45,201.4 685.92,201.4 686.39,201.4 686.86,201.4 687.32,201.4 687.79,201.4 688.26,201.4 688.72,201.4 689.19,201.4 689.66,201.4 690.12,201.4 690.59,201.4 691.06,201.4 691.52,201.4 691.99,201.4 692.46,201.4 692.93,201.4 693.39,201.4 693.86,201.4 694.33,201.4 694.79,201.4 695.26,201.4 695.73,201.4 696.2,201.4 696.66,201.4 697.13,201.4 697.6,201.4 698.06,201.4 698.53,201.4 699,201.4 699.46,201.4 699.93,201.4 700.4,200.62 700.87,199.06 701.33,197.51 701.8,195.95 702.27,194.39 702.73,193.98 703.2,193.7 703.67,193.42 704.13,193.13 704.6,192.85 705.07,192.57 705.53,192.28 706,192.05 706.47,192.28 706.94,192.52 707.4,192.75 707.87,192.98 708.34,193.22 708.8,193.45 709.27,193.69 709.74,193.92 710.21,194.16 710.67,194.39 711.14,194.63 711.61,194.86 712.07,195.1 712.54,195.33 713.01,195.57 713.47,195.76 713.94,195.92 714.41,196.07 714.88,196.23 715.34,196.39 715.81,196.54 716.28,196.7 716.74,196.85 717.21,197.01 717.68,197.06 718.14,196.71 718.61,196.35 719.08,195.99 719.54,195.64 720.01,195.28 720.48,194.92 720.95,193.41 721.41,191.89 721.88,190.38 722.35,188.87 722.81,187.35 723.28,185.84 723.75,184.32 724.22,182.94 724.68,182.08 725.15,181.22 725.62,180.36 726.08,179.5 726.55,178.64 727.02,177.78 727.48,175.83 727.95,173.89 728.42,171.94 728.88,170 729.35,167.44 729.82,163.47 730.29,159.49 730.75,155.68 731.22,151.87 731.69,146.54 732.15,140.14 732.62,146.54 733.09,160.63 733.56,174.73 734.02,180.83 734.49,186.92 734.96,187.77 735.42,188.62 735.89,188.55 736.36,186.38 736.82,184.2 737.29,181.91 737.76,179.52 738.23,177.12 738.69,174.73 739.16,171.87 739.63,169.02 740.09,166.16 740.56,163.3 741.03,160.44 741.49,157.59 741.96,154.73 742.43,151.87 742.89,150.92 743.36,149.97 743.83,149.01 744.3,148.06 744.76,147.3 745.23,146.54 745.7,145.39 746.16,144.25 746.63,143.27 747.1,142.28 747.57,141.3 748.03,143.65 748.5,142.99 748.97,138.96 749.43,144.25 749.9,151.87 750.37,161.12 750.83,172.01 751.3,181.17 751.77,187.74 752.24,194.31 752.7,199.5 753.17,201.4 753.64,201.4 754.1,201.4 754.57,201.4 755.04,201.4 755.5,201.4 755.97,201.4 756.44,201.4 756.9,201.4 757.37,201.4 757.84,201.4 758.31,201.4 758.77,201.4 759.24,201.4 759.71,201.4 760.17,201.4 760.64,201.4 761.11,201.4 761.58,201.4 762.04,201.4 762.51,201.4 762.98,201.4 763.44,201.4 763.91,201.4 764.38,201.4 764.84,201.4 765.31,201.4 765.78,201.4 766.25,201.4 766.71,201.4 767.18,201.4 767.65,201.4 768.11,201.4 768.58,201.4 769.05,201.4 769.51,201.4 769.98,201.4 770.45,201.4 770.91,201.4 771.38,201.4 771.85,201.4 772.32,201.4 772.78,201.4 773.25,201.4 773.72,201.4 774.18,201.4 774.65,201.4 775.12,201.4 775.59,201.4 775.59,201.4 656.5,201.4" fill="#008000" fill-opacity="0.78"/><polyline points="699.46,201.22 699.93,199.37 700.4,197.53 700.87,195.69 701.33,194.91 701.8,194.14 702.27,193.36 702.73,192.59 703.2,191.81 703.67,191.04 704.13,191.08 704.6,191.32 705.07,191.57 705.53,191.81 706,192.06 706.47,192.42 706.94,192.78 707.4,193.13 707.87,193.49 708.34,193.85 708.8,194.2 709.27,194.48 709.74,194.76 710.21,195.03 710.67,195.3 711.14,195.58 711.61,195.85 712.07,196.12 712.54,196.39 713.01,196.54 713.47,196.7 713.94,196.85 714.41,197.01 714.88,197.16 715.34,197.32 715.81,197.48 716.28,197.63 716.74,197.79 717.21,197.57 717.68,197.26 718.14,196.96 718.61,196.65 719.08,196.26 719.54,195.1 720.01,193.94 720.48,192.79 720.95,191.63 721.41,190.48 721.88,189.32 722.35,188.25 722.81,187.18 723.28,186.11 723.75,185.04 724.22,183.97 724.68,182.9 725.15,182.05 725.62,181.28 726.08,180.52 726.55,179.76 727.02,179 727.48,176.64 727.95,174.28 728.42,171.92 728.88,148.06 729.35,125.66 729.82,142.34 730.29,153.78 730.75,162.03 731.22,167.11 731.69,170.92 732.15,174.73 732.62,179.68 733.09,184.64 733.56,186.98 734.02,189.33 734.49,190.73 734.96,190.73 735.42,190.73 735.89,189.94 736.36,187.29 736.82,184.64 737.29,182.16 737.76,179.68 738.23,177.21 738.69,174.73 739.16,169.65 739.63,164.57 740.09,159.49 740.56,156.63 741.03,153.78 741.49,150.92 741.96,148.06 742.43,148.06 742.89,148.06 743.36,148.06 743.83,146.16 744.3,144.25 744.76,143.11 745.23,141.96 745.7,139.62 746.16,137.27 746.63,138.26 747.1,144.25 747.57,144.25 748.03,144.25 748.5,149.33 748.97,154.41 749.43,159.49 749.9,167.11 750.37,174.73 750.83,180.87 751.3,185.53 751.77,190.18 752.24,194.29 752.7,198.26 753.17,200.98 753.64,201.4" fill="none" stroke="#1010e8" stroke-width="0.7" stroke-opacity="0.9" stroke-linejoin="round"/><polyline points="702.73,201.4 703.2,200.99 703.67,199.61 704.13,198.23 704.6,196.85 705.07,195.47 705.53,194.74 706,194.43 706.47,194.12 706.94,193.82 707.4,193.51 707.87,193.2 708.34,192.78 708.8,192.18 709.27,191.59 709.74,190.99 710.21,190.39 710.67,190.82 711.14,191.5 711.61,192.18 712.07,192.86 712.54,193.49 713.01,193.61 713.47,193.73 713.94,193.86 714.41,193.98 714.88,194.1 715.34,194.22 715.81,194.66 716.28,195.12 716.74,195.59 717.21,196.06 717.68,196.53 718.14,196.99 718.61,196.81 719.08,196.35 719.54,195.89 720.01,195.43 720.48,194.97 720.95,194.51 721.41,193.82 721.88,192.77 722.35,191.72 722.81,190.67 723.28,189.62 723.75,188.57 724.22,187.52 724.68,186.47 725.15,185.23 725.62,183.9 726.08,182.57 726.55,181.24 727.02,179.91 727.48,178.58 727.95,177.02 728.42,175.11 728.88,173.21 729.35,171.3 729.82,169.4 730.29,166.86 730.75,164.32 731.22,161.78 731.69,160.57 732.15,160.03 732.62,165.48 733.09,170.92 733.56,175.49 734.02,180.06 734.49,181.52 734.96,182.97 735.42,181.51 735.89,179.72 736.36,177.94 736.82,176.16 737.29,174.73 737.76,174.73 738.23,174.73 738.69,174.73 739.16,170.11 739.63,165.49 740.09,160.88 740.56,157.04 741.03,153.54 741.49,150.04 741.96,146.54 742.43,145.45 742.89,144.36 743.36,143.21 743.83,141.83 744.3,140.44 744.76,126.34 745.23,144.25 745.7,146.79 746.16,149.33 746.63,151.87 747.1,156.95 747.57,162.03 748.03,167.11 748.5,176.63 748.97,186.16 749.43,196.32 749.9,201.4" fill="none" stroke="#ff1010" stroke-width="0.9" stroke-opacity="0.9" stroke-linejoin="round"/><polyline points="699.93,201.4 700.4,200.62 700.87,199.06 701.33,197.51 701.8,195.95 702.27,194.39 702.73,193.98 703.2,193.7 703.67,193.42 704.13,193.13 704.6,192.85 705.07,192.57 705.53,192.28 706,192.05 706.47,192.28 706.94,192.52 707.4,192.75 707.87,192.98 708.34,193.22 708.8,193.45 709.27,193.69 709.74,193.92 710.21,194.16 710.67,194.39 711.14,194.63 711.61,194.86 712.07,195.1 712.54,195.33 713.01,195.57 713.47,195.76 713.94,195.92 714.41,196.07 714.88,196.23 715.34,196.39 715.81,196.54 716.28,196.7 716.74,196.85 717.21,197.01 717.68,197.06 718.14,196.71 718.61,196.35 719.08,195.99 719.54,195.64 720.01,195.28 720.48,194.92 720.95,193.41 721.41,191.89 721.88,190.38 722.35,188.87 722.81,187.35 723.28,185.84 723.75,184.32 724.22,182.94 724.68,182.08 725.15,181.22 725.62,180.36 726.08,179.5 726.55,178.64 727.02,177.78 727.48,175.83 727.95,173.89 728.42,171.94 728.88,170 729.35,167.44 729.82,163.47 730.29,159.49 730.75,155.68 731.22,151.87 731.69,146.54 732.15,140.14 732.62,146.54 733.09,160.63 733.56,174.73 734.02,180.83 734.49,186.92 734.96,187.77 735.42,188.62 735.89,188.55 736.36,186.38 736.82,184.2 737.29,181.91 737.76,179.52 738.23,177.12 738.69,174.73 739.16,171.87 739.63,169.02 740.09,166.16 740.56,163.3 741.03,160.44 741.49,157.59 741.96,154.73 742.43,151.87 742.89,150.92 743.36,149.97 743.83,149.01 744.3,148.06 744.76,147.3 745.23,146.54 745.7,145.39 746.16,144.25 746.63,143.27 747.1,142.28 747.57,141.3 748.03,143.65 748.5,142.99 748.97,138.96 749.43,144.25 749.9,151.87 750.37,161.12 750.83,172.01 751.3,181.17 751.77,187.74 752.24,194.31 752.7,199.5 753.17,201.4" fill="none" stroke="#107010" stroke-width="0.6" stroke-opacity="0.9" stroke-linejoin="round"/></g></svg><path d="M656.4,205.3 L656.4,122.5 L776.9,122.5 L776.9,205.3" fill="none" stroke="#7c7c7c" stroke-width="0.9"/><line x1="656.4" y1="205.3" x2="776.9" y2="205.3" stroke="#c4c4c4" stroke-width="0.9"/><line x1="655" y1="201.4" x2="656.4" y2="201.4" stroke="#555" stroke-width="0.5"/><text x="654.2" y="202.4" class="t" text-anchor="end">0</text><line x1="655" y1="186.16" x2="656.4" y2="186.16" stroke="#555" stroke-width="0.5"/><text x="654.2" y="187.16" class="t" text-anchor="end">2,000</text><line x1="655" y1="170.92" x2="656.4" y2="170.92" stroke="#555" stroke-width="0.5"/><text x="654.2" y="171.92" class="t" text-anchor="end">4,000</text><line x1="655" y1="155.68" x2="656.4" y2="155.68" stroke="#555" stroke-width="0.5"/><text x="654.2" y="156.68" class="t" text-anchor="end">6,000</text><line x1="655" y1="140.44" x2="656.4" y2="140.44" stroke="#555" stroke-width="0.5"/><text x="654.2" y="141.44" class="t" text-anchor="end">8,000</text><line x1="655" y1="125.2" x2="656.4" y2="125.2" stroke="#555" stroke-width="0.5"/><text x="654.2" y="126.2" class="t" text-anchor="end">10,000</text><line x1="656.5" y1="205.3" x2="656.5" y2="206.7" stroke="#555" stroke-width="0.5"/><text x="656.5" y="211.8" class="t" text-anchor="middle">0</text><line x1="679.85" y1="205.3" x2="679.85" y2="206.7" stroke="#555" stroke-width="0.5"/><text x="679.85" y="211.8" class="t" text-anchor="middle">50</text><line x1="703.2" y1="205.3" x2="703.2" y2="206.7" stroke="#555" stroke-width="0.5"/><text x="703.2" y="211.8" class="t" text-anchor="middle">100</text><line x1="726.55" y1="205.3" x2="726.55" y2="206.7" stroke="#555" stroke-width="0.5"/><text x="726.55" y="211.8" class="t" text-anchor="middle">150</text><line x1="749.9" y1="205.3" x2="749.9" y2="206.7" stroke="#555" stroke-width="0.5"/><text x="749.9" y="211.8" class="t" text-anchor="middle">200</text><line x1="773.25" y1="205.3" x2="773.25" y2="206.7" stroke="#555" stroke-width="0.5"/><text x="773.25" y="211.8" class="t" text-anchor="middle">250</text><svg x="15" y="25.6" width="141" height="94.2" viewBox="0 0 142 95" preserveAspectRatio="none"><defs><linearGradient id="g0" x1="0" y1="0" x2="0" y2="1"><stop offset="0" stop-color="#f7bd65"/><stop offset="0.18" stop-color="#f3b75f"/><stop offset="0.38" stop-color="#ecae56"/><stop offset="0.5" stop-color="#e4a450"/><stop offset="0.68" stop-color="#d89546"/><stop offset="0.8" stop-color="#d69244"/><stop offset="1" stop-color="#d99540"/></linearGradient><linearGradient id="v0" x1="0" y1="0" x2="1" y2="0"><stop offset="0" stop-color="#000" stop-opacity="0.035"/><stop offset="0.3" stop-color="#000" stop-opacity="0"/><stop offset="0.75" stop-color="#000" stop-opacity="0"/><stop offset="1" stop-color="#000" stop-opacity="0.06"/></linearGradient><linearGradient id="w0" x1="0" y1="0" x2="1" y2="0"><stop offset="0" stop-color="#000" stop-opacity="0.06"/><stop offset="0.28" stop-color="#000" stop-opacity="0"/><stop offset="0.82" stop-color="#3c3c14" stop-opacity="0"/><stop offset="1" stop-color="#3c3c14" stop-opacity="0.12"/></linearGradient><linearGradient id="mg0" x1="0" y1="0" x2="0" y2="1"><stop offset="0" stop-color="#000"/><stop offset="0.5" stop-color="#fff"/></linearGradient><mask id="m0" maskUnits="userSpaceOnUse" x="0" y="0" width="142" height="95"><rect y="40" width="142" height="55" fill="url(#mg0)"/></mask><filter id="b0" x="-0.3" y="-0.3" width="1.6" height="1.6"><feGaussianBlur stdDeviation="0.65"/></filter><filter id="c0" x="-0.3" y="-0.3" width="1.6" height="1.6"><feGaussianBlur stdDeviation="1.5"/></filter><filter id="p0" x="-0.3" y="-0.3" width="1.6" height="1.6"><feGaussianBlur stdDeviation="0.62"/></filter></defs><rect width="142" height="95" fill="url(#g0)"/><g filter="url(#c0)"><rect x="93" y="47" width="14" height="14" rx="3" fill="#e6ac60"/><rect x="112" y="47" width="13" height="14" rx="3" fill="#d99947"/><rect x="127" y="48" width="14" height="13" rx="3" fill="#d49342"/><rect x="0" y="47" width="11" height="15" rx="2" fill="#d49342"/></g><g filter="url(#p0)"><path d="M15,65.2 L15.4,50 Q15.8,45.3 19.5,45.2 L37,45.2 Q40.6,45.3 41,50 L41.4,65.2 Z" fill="#c07e32"/><rect x="17.5" y="47" width="21.5" height="6.5" rx="1" fill="#b8752a"/><rect x="17" y="60.5" width="23" height="1.6" fill="#cd8b3c"/><rect x="16.5" y="62" width="4.5" height="3.2" fill="#b67329"/><rect x="35.5" y="62" width="4.5" height="3.2" fill="#b67329"/><circle cx="32.5" cy="54" r="0.9" fill="#c99151"/><path d="M75,63.5 L75,47 Q75,43.7 78,43.7 L88.5,43.7 Q91.5,43.7 91.5,47 L91.5,63.5 Z" fill="#d69645"/></g><path d="M0,87 L44,77.5" stroke="#f6c273" stroke-width="1.6" opacity="0.3" stroke-linecap="round" filter="url(#p0)"/><path d="M108.6,95 L115.8,82.6 C119,77.3 122.4,74 126.5,71.5 C130.8,69 136,68 142,67.5" stroke="#f6c273" stroke-width="1.6" fill="none" opacity="0.2" filter="url(#b0)"/><path d="M110,95 L117,83 C120,78 123,75 127,72.5 C131,70 136,69 142,68.5 L142,95 Z" fill="#b46d21" filter="url(#b0)"/><g filter="url(#p0)"><ellipse cx="53.6" cy="41.2" rx="2.0" ry="2.7" fill="#a05a14"/><path d="M49,45.5 L52,44.3 L56.5,44.3 L60.3,45.6 L61.8,49 L61.8,56 L60.8,58 L60.3,62.8 L49.3,62.8 L49,56 L48.5,50 Z" fill="#a05a14"/><path d="M43.4,52.4 L45,51 L49.6,45 L51.6,44.6 L51.2,46.8 L46.6,53.6 L44.4,54 Z" fill="#a05a14"/><path d="M61,46.5 L63,50 L63,57.5 L61.5,58 Z" fill="#a05a14"/><path d="M48,62.5 L60.2,62.5 L59.8,70.8 L54.8,70.8 L54.2,68.5 L53.6,70.8 L48.2,70.8 Z" fill="#c58335"/><path d="M48.8,70.8 L53.4,70.8 L53,77 L52.3,84.8 L50,84.8 L49.6,77 Z" fill="#b47026"/><path d="M54.8,70.8 L59.4,70.8 L58.4,77.5 L57.4,85.2 L55,85.2 L55.2,77.5 Z" fill="#b47026"/><ellipse cx="72" cy="42" rx="2.4" ry="3.1" fill="#a05a14"/><path d="M68.3,45.6 L75.8,45.6 L78,49 L78.6,56 L78,62 L79.5,67 L81,72.5 L77,73.5 L72,73.2 L67.5,72.5 L67,66 L64.5,62.5 L64.8,52 Z" fill="#a05a14"/><ellipse cx="65.5" cy="62" rx="1.8" ry="3" fill="#b47026"/><path d="M69,72.8 L71.5,72.8 L71,85.5 L69.5,85.5 Z" fill="#b47026"/><path d="M73,72.8 L75.5,72.8 L74.5,85 L73,85 Z" fill="#b47026"/></g><rect y="40" width="142" height="55" fill="url(#v0)" mask="url(#m0)"/><rect width="142" height="95" fill="url(#w0)"/></svg><svg x="171" y="25.6" width="141" height="94.2" viewBox="0 0 142 95" preserveAspectRatio="none"><defs><linearGradient id="g1" x1="0" y1="0" x2="0" y2="1"><stop offset="0" stop-color="#b2c2e2"/><stop offset="0.18" stop-color="#afbbd5"/><stop offset="0.38" stop-color="#aab2c6"/><stop offset="0.5" stop-color="#a5a9b2"/><stop offset="0.68" stop-color="#9d9b94"/><stop offset="0.8" stop-color="#9c988e"/><stop offset="1" stop-color="#a29c90"/></linearGradient><linearGradient id="v1" x1="0" y1="0" x2="1" y2="0"><stop offset="0" stop-color="#000" stop-opacity="0.035"/><stop offset="0.3" stop-color="#000" stop-opacity="0"/><stop offset="0.75" stop-color="#000" stop-opacity="0"/><stop offset="1" stop-color="#000" stop-opacity="0.06"/></linearGradient><linearGradient id="w1" x1="0" y1="0" x2="1" y2="0"><stop offset="0" stop-color="#000" stop-opacity="0.06"/><stop offset="0.28" stop-color="#000" stop-opacity="0"/><stop offset="0.82" stop-color="#3c3c14" stop-opacity="0"/><stop offset="1" stop-color="#3c3c14" stop-opacity="0.12"/></linearGradient><linearGradient id="mg1" x1="0" y1="0" x2="0" y2="1"><stop offset="0" stop-color="#000"/><stop offset="0.5" stop-color="#fff"/></linearGradient><mask id="m1" maskUnits="userSpaceOnUse" x="0" y="0" width="142" height="95"><rect y="40" width="142" height="55" fill="url(#mg1)"/></mask><filter id="b1" x="-0.3" y="-0.3" width="1.6" height="1.6"><feGaussianBlur stdDeviation="0.65"/></filter><filter id="c1" x="-0.3" y="-0.3" width="1.6" height="1.6"><feGaussianBlur stdDeviation="1.5"/></filter><filter id="p1" x="-0.3" y="-0.3" width="1.6" height="1.6"><feGaussianBlur stdDeviation="0.62"/></filter></defs><rect width="142" height="95" fill="url(#g1)"/><g filter="url(#c1)"><rect x="93" y="47" width="14" height="14" rx="3" fill="#adb1b9"/><rect x="112" y="47" width="13" height="14" rx="3" fill="#9b9c9c"/><rect x="127" y="48" width="14" height="13" rx="3" fill="#969692"/><rect x="0" y="47" width="11" height="15" rx="2" fill="#969692"/></g><g filter="url(#p1)"><path d="M15,65.2 L15.4,50 Q15.8,45.3 19.5,45.2 L37,45.2 Q40.6,45.3 41,50 L41.4,65.2 Z" fill="#847e6a"/><rect x="17.5" y="47" width="21.5" height="6.5" rx="1" fill="#80765c"/><rect x="17" y="60.5" width="23" height="1.6" fill="#908d83"/><rect x="16.5" y="62" width="4.5" height="3.2" fill="#7f7559"/><rect x="35.5" y="62" width="4.5" height="3.2" fill="#7f7559"/><circle cx="32.5" cy="54" r="0.9" fill="#969180"/><path d="M75,63.5 L75,47 Q75,43.7 78,43.7 L88.5,43.7 Q91.5,43.7 91.5,47 L91.5,63.5 Z" fill="#989997"/></g><path d="M0,87 L44,77.5" stroke="#b8c6e3" stroke-width="1.6" opacity="0.3" stroke-linecap="round" filter="url(#p1)"/><path d="M108.6,95 L115.8,82.6 C119,77.3 122.4,74 126.5,71.5 C130.8,69 136,68 142,67.5" stroke="#b8c6e3" stroke-width="1.6" fill="none" opacity="0.2" filter="url(#b1)"/><path d="M110,95 L117,83 C120,78 123,75 127,72.5 C131,70 136,69 142,68.5 L142,95 Z" fill="#816d44" filter="url(#b1)"/><g filter="url(#p1)"><ellipse cx="53.6" cy="41.2" rx="2.0" ry="2.7" fill="#735f32"/><path d="M49,45.5 L52,44.3 L56.5,44.3 L60.3,45.6 L61.8,49 L61.8,56 L60.8,58 L60.3,62.8 L49.3,62.8 L49,56 L48.5,50 Z" fill="#735f32"/><path d="M43.4,52.4 L45,51 L49.6,45 L51.6,44.6 L51.2,46.8 L46.6,53.6 L44.4,54 Z" fill="#735f32"/><path d="M61,46.5 L63,50 L63,57.5 L61.5,58 Z" fill="#735f32"/><path d="M48,62.5 L60.2,62.5 L59.8,70.8 L54.8,70.8 L54.2,68.5 L53.6,70.8 L48.2,70.8 Z" fill="#8e8878"/><path d="M48.8,70.8 L53.4,70.8 L53,77 L52.3,84.8 L50,84.8 L49.6,77 Z" fill="#827558"/><path d="M54.8,70.8 L59.4,70.8 L58.4,77.5 L57.4,85.2 L55,85.2 L55.2,77.5 Z" fill="#827558"/><ellipse cx="72" cy="42" rx="2.4" ry="3.1" fill="#735f32"/><path d="M68.3,45.6 L75.8,45.6 L78,49 L78.6,56 L78,62 L79.5,67 L81,72.5 L77,73.5 L72,73.2 L67.5,72.5 L67,66 L64.5,62.5 L64.8,52 Z" fill="#735f32"/><ellipse cx="65.5" cy="62" rx="1.8" ry="3" fill="#827558"/><path d="M69,72.8 L71.5,72.8 L71,85.5 L69.5,85.5 Z" fill="#827558"/><path d="M73,72.8 L75.5,72.8 L74.5,85 L73,85 Z" fill="#827558"/></g><rect y="40" width="142" height="55" fill="url(#v1)" mask="url(#m1)"/><rect width="142" height="95" fill="url(#w1)"/></svg><svg x="328" y="25.6" width="142" height="94.2" viewBox="0 0 142 95" preserveAspectRatio="none"><defs><linearGradient id="g2" x1="0" y1="0" x2="0" y2="1"><stop offset="0" stop-color="#b8bec8"/><stop offset="0.18" stop-color="#b3b6ba"/><stop offset="0.38" stop-color="#acacaa"/><stop offset="0.5" stop-color="#a6a49b"/><stop offset="0.68" stop-color="#9e9684"/><stop offset="0.8" stop-color="#9c9480"/><stop offset="1" stop-color="#a29c81"/></linearGradient><linearGradient id="v2" x1="0" y1="0" x2="1" y2="0"><stop offset="0" stop-color="#000" stop-opacity="0.035"/><stop offset="0.3" stop-color="#000" stop-opacity="0"/><stop offset="0.75" stop-color="#000" stop-opacity="0"/><stop offset="1" stop-color="#000" stop-opacity="0.06"/></linearGradient><linearGradient id="w2" x1="0" y1="0" x2="1" y2="0"><stop offset="0" stop-color="#000" stop-opacity="0.06"/><stop offset="0.28" stop-color="#000" stop-opacity="0"/><stop offset="0.82" stop-color="#3c3c14" stop-opacity="0"/><stop offset="1" stop-color="#3c3c14" stop-opacity="0.12"/></linearGradient><linearGradient id="mg2" x1="0" y1="0" x2="0" y2="1"><stop offset="0" stop-color="#000"/><stop offset="0.5" stop-color="#fff"/></linearGradient><mask id="m2" maskUnits="userSpaceOnUse" x="0" y="0" width="142" height="95"><rect y="40" width="142" height="55" fill="url(#mg2)"/></mask><filter id="b2" x="-0.3" y="-0.3" width="1.6" height="1.6"><feGaussianBlur stdDeviation="0.65"/></filter><filter id="c2" x="-0.3" y="-0.3" width="1.6" height="1.6"><feGaussianBlur stdDeviation="1.5"/></filter><filter id="p2" x="-0.3" y="-0.3" width="1.6" height="1.6"><feGaussianBlur stdDeviation="0.62"/></filter></defs><rect width="142" height="95" fill="url(#g2)"/><g filter="url(#c2)"><rect x="93" y="47" width="14" height="14" rx="3" fill="#aeaca4"/><rect x="112" y="47" width="13" height="14" rx="3" fill="#9c998c"/><rect x="127" y="48" width="14" height="13" rx="3" fill="#989384"/><rect x="0" y="47" width="11" height="15" rx="2" fill="#989384"/></g><g filter="url(#p2)"><path d="M15,65.2 L15.4,50 Q15.8,45.3 19.5,45.2 L37,45.2 Q40.6,45.3 41,50 L41.4,65.2 Z" fill="#867e68"/><rect x="17.5" y="47" width="21.5" height="6.5" rx="1" fill="#82765a"/><rect x="17" y="60.5" width="23" height="1.6" fill="#918b7a"/><rect x="16.5" y="62" width="4.5" height="3.2" fill="#817558"/><rect x="35.5" y="62" width="4.5" height="3.2" fill="#817558"/><circle cx="32.5" cy="54" r="0.9" fill="#98917f"/><path d="M75,63.5 L75,47 Q75,43.7 78,43.7 L88.5,43.7 Q91.5,43.7 91.5,47 L91.5,63.5 Z" fill="#9a9688"/></g><path d="M0,87 L44,77.5" stroke="#bdc3cc" stroke-width="1.6" opacity="0.3" stroke-linecap="round" filter="url(#p2)"/><path d="M108.6,95 L115.8,82.6 C119,77.3 122.4,74 126.5,71.5 C130.8,69 136,68 142,67.5" stroke="#bdc3cc" stroke-width="1.6" fill="none" opacity="0.2" filter="url(#b2)"/><path d="M110,95 L117,83 C120,78 123,75 127,72.5 C131,70 136,69 142,68.5 L142,95 Z" fill="#816b3f" filter="url(#b2)"/><g filter="url(#p2)"><ellipse cx="53.6" cy="41.2" rx="2.0" ry="2.7" fill="#765f32"/><path d="M49,45.5 L52,44.3 L56.5,44.3 L60.3,45.6 L61.8,49 L61.8,56 L60.8,58 L60.3,62.8 L49.3,62.8 L49,56 L48.5,50 Z" fill="#765f32"/><path d="M43.4,52.4 L45,51 L49.6,45 L51.6,44.6 L51.2,46.8 L46.6,53.6 L44.4,54 Z" fill="#765f32"/><path d="M61,46.5 L63,50 L63,57.5 L61.5,58 Z" fill="#765f32"/><path d="M48,62.5 L60.2,62.5 L59.8,70.8 L54.8,70.8 L54.2,68.5 L53.6,70.8 L48.2,70.8 Z" fill="#90856c"/><path d="M48.8,70.8 L53.4,70.8 L53,77 L52.3,84.8 L50,84.8 L49.6,77 Z" fill="#847452"/><path d="M54.8,70.8 L59.4,70.8 L58.4,77.5 L57.4,85.2 L55,85.2 L55.2,77.5 Z" fill="#847452"/><ellipse cx="72" cy="42" rx="2.4" ry="3.1" fill="#765f32"/><path d="M68.3,45.6 L75.8,45.6 L78,49 L78.6,56 L78,62 L79.5,67 L81,72.5 L77,73.5 L72,73.2 L67.5,72.5 L67,66 L64.5,62.5 L64.8,52 Z" fill="#765f32"/><ellipse cx="65.5" cy="62" rx="1.8" ry="3" fill="#847452"/><path d="M69,72.8 L71.5,72.8 L71,85.5 L69.5,85.5 Z" fill="#847452"/><path d="M73,72.8 L75.5,72.8 L74.5,85 L73,85 Z" fill="#847452"/></g><rect y="40" width="142" height="55" fill="url(#v2)" mask="url(#m2)"/><rect width="142" height="95" fill="url(#w2)"/></svg><svg x="484" y="25.6" width="141" height="94.2" viewBox="0 0 142 95" preserveAspectRatio="none"><defs><linearGradient id="g3" x1="0" y1="0" x2="0" y2="1"><stop offset="0" stop-color="#c6b4be"/><stop offset="0.18" stop-color="#c2aeb3"/><stop offset="0.38" stop-color="#bca6a6"/><stop offset="0.5" stop-color="#b59c94"/><stop offset="0.68" stop-color="#aa8d79"/><stop offset="0.8" stop-color="#a88a74"/><stop offset="1" stop-color="#ae8e74"/></linearGradient><linearGradient id="v3" x1="0" y1="0" x2="1" y2="0"><stop offset="0" stop-color="#000" stop-opacity="0.035"/><stop offset="0.3" stop-color="#000" stop-opacity="0"/><stop offset="0.75" stop-color="#000" stop-opacity="0"/><stop offset="1" stop-color="#000" stop-opacity="0.06"/></linearGradient><linearGradient id="w3" x1="0" y1="0" x2="1" y2="0"><stop offset="0" stop-color="#000" stop-opacity="0.06"/><stop offset="0.28" stop-color="#000" stop-opacity="0"/><stop offset="0.82" stop-color="#3c3c14" stop-opacity="0"/><stop offset="1" stop-color="#3c3c14" stop-opacity="0.12"/></linearGradient><linearGradient id="mg3" x1="0" y1="0" x2="0" y2="1"><stop offset="0" stop-color="#000"/><stop offset="0.5" stop-color="#fff"/></linearGradient><mask id="m3" maskUnits="userSpaceOnUse" x="0" y="0" width="142" height="95"><rect y="40" width="142" height="55" fill="url(#mg3)"/></mask><filter id="b3" x="-0.3" y="-0.3" width="1.6" height="1.6"><feGaussianBlur stdDeviation="0.65"/></filter><filter id="c3" x="-0.3" y="-0.3" width="1.6" height="1.6"><feGaussianBlur stdDeviation="1.5"/></filter><filter id="p3" x="-0.3" y="-0.3" width="1.6" height="1.6"><feGaussianBlur stdDeviation="0.62"/></filter></defs><rect width="142" height="95" fill="url(#g3)"/><g filter="url(#c3)"><rect x="93" y="47" width="14" height="14" rx="3" fill="#bca59e"/><rect x="112" y="47" width="13" height="14" rx="3" fill="#aa9084"/><rect x="127" y="48" width="14" height="13" rx="3" fill="#a58a7d"/><rect x="0" y="47" width="11" height="15" rx="2" fill="#a58a7d"/></g><g filter="url(#p3)"><path d="M15,65.2 L15.4,50 Q15.8,45.3 19.5,45.2 L37,45.2 Q40.6,45.3 41,50 L41.4,65.2 Z" fill="#927460"/><rect x="17.5" y="47" width="21.5" height="6.5" rx="1" fill="#8d6c53"/><rect x="17" y="60.5" width="23" height="1.6" fill="#9e8272"/><rect x="16.5" y="62" width="4.5" height="3.2" fill="#8c6b51"/><rect x="35.5" y="62" width="4.5" height="3.2" fill="#8c6b51"/><circle cx="32.5" cy="54" r="0.9" fill="#a28978"/><path d="M75,63.5 L75,47 Q75,43.7 78,43.7 L88.5,43.7 Q91.5,43.7 91.5,47 L91.5,63.5 Z" fill="#a88d80"/></g><path d="M0,87 L44,77.5" stroke="#cabac3" stroke-width="1.6" opacity="0.3" stroke-linecap="round" filter="url(#p3)"/><path d="M108.6,95 L115.8,82.6 C119,77.3 122.4,74 126.5,71.5 C130.8,69 136,68 142,67.5" stroke="#cabac3" stroke-width="1.6" fill="none" opacity="0.2" filter="url(#b3)"/><path d="M110,95 L117,83 C120,78 123,75 127,72.5 C131,70 136,69 142,68.5 L142,95 Z" fill="#896037" filter="url(#b3)"/><g filter="url(#p3)"><ellipse cx="53.6" cy="41.2" rx="2.0" ry="2.7" fill="#7d552d"/><path d="M49,45.5 L52,44.3 L56.5,44.3 L60.3,45.6 L61.8,49 L61.8,56 L60.8,58 L60.3,62.8 L49.3,62.8 L49,56 L48.5,50 Z" fill="#7d552d"/><path d="M43.4,52.4 L45,51 L49.6,45 L51.6,44.6 L51.2,46.8 L46.6,53.6 L44.4,54 Z" fill="#7d552d"/><path d="M61,46.5 L63,50 L63,57.5 L61.5,58 Z" fill="#7d552d"/><path d="M48,62.5 L60.2,62.5 L59.8,70.8 L54.8,70.8 L54.2,68.5 L53.6,70.8 L48.2,70.8 Z" fill="#9c7c66"/><path d="M48.8,70.8 L53.4,70.8 L53,77 L52.3,84.8 L50,84.8 L49.6,77 Z" fill="#8e6a4c"/><path d="M54.8,70.8 L59.4,70.8 L58.4,77.5 L57.4,85.2 L55,85.2 L55.2,77.5 Z" fill="#8e6a4c"/><ellipse cx="72" cy="42" rx="2.4" ry="3.1" fill="#7d552d"/><path d="M68.3,45.6 L75.8,45.6 L78,49 L78.6,56 L78,62 L79.5,67 L81,72.5 L77,73.5 L72,73.2 L67.5,72.5 L67,66 L64.5,62.5 L64.8,52 Z" fill="#7d552d"/><ellipse cx="65.5" cy="62" rx="1.8" ry="3" fill="#8e6a4c"/><path d="M69,72.8 L71.5,72.8 L71,85.5 L69.5,85.5 Z" fill="#8e6a4c"/><path d="M73,72.8 L75.5,72.8 L74.5,85 L73,85 Z" fill="#8e6a4c"/></g><rect y="40" width="142" height="55" fill="url(#v3)" mask="url(#m3)"/><rect width="142" height="95" fill="url(#w3)"/></svg><svg x="638" y="25.6" width="142" height="94.2" viewBox="0 0 142 95" preserveAspectRatio="none"><defs><linearGradient id="g4" x1="0" y1="0" x2="0" y2="1"><stop offset="0" stop-color="#c6cace"/><stop offset="0.18" stop-color="#c0c3c6"/><stop offset="0.38" stop-color="#b8babc"/><stop offset="0.5" stop-color="#b0b1b2"/><stop offset="0.68" stop-color="#a4a3a1"/><stop offset="0.8" stop-color="#a2a09e"/><stop offset="1" stop-color="#a6a4a2"/></linearGradient><linearGradient id="v4" x1="0" y1="0" x2="1" y2="0"><stop offset="0" stop-color="#000" stop-opacity="0.035"/><stop offset="0.3" stop-color="#000" stop-opacity="0"/><stop offset="0.75" stop-color="#000" stop-opacity="0"/><stop offset="1" stop-color="#000" stop-opacity="0.06"/></linearGradient><linearGradient id="w4" x1="0" y1="0" x2="1" y2="0"><stop offset="0" stop-color="#000" stop-opacity="0.06"/><stop offset="0.28" stop-color="#000" stop-opacity="0"/><stop offset="0.82" stop-color="#3c3c14" stop-opacity="0"/><stop offset="1" stop-color="#3c3c14" stop-opacity="0.12"/></linearGradient><linearGradient id="mg4" x1="0" y1="0" x2="0" y2="1"><stop offset="0" stop-color="#000"/><stop offset="0.5" stop-color="#fff"/></linearGradient><mask id="m4" maskUnits="userSpaceOnUse" x="0" y="0" width="142" height="95"><rect y="40" width="142" height="55" fill="url(#mg4)"/></mask><filter id="b4" x="-0.3" y="-0.3" width="1.6" height="1.6"><feGaussianBlur stdDeviation="0.65"/></filter><filter id="c4" x="-0.3" y="-0.3" width="1.6" height="1.6"><feGaussianBlur stdDeviation="1.5"/></filter><filter id="p4" x="-0.3" y="-0.3" width="1.6" height="1.6"><feGaussianBlur stdDeviation="0.62"/></filter></defs><rect width="142" height="95" fill="url(#g4)"/><g filter="url(#c4)"><rect x="93" y="47" width="14" height="14" rx="3" fill="#b7b8b9"/><rect x="112" y="47" width="13" height="14" rx="3" fill="#a5a5a5"/><rect x="127" y="48" width="14" height="13" rx="3" fill="#9f9f9f"/><rect x="0" y="47" width="11" height="15" rx="2" fill="#9f9f9f"/></g><g filter="url(#p4)"><path d="M15,65.2 L15.4,50 Q15.8,45.3 19.5,45.2 L37,45.2 Q40.6,45.3 41,50 L41.4,65.2 Z" fill="#8a8887"/><rect x="17.5" y="47" width="21.5" height="6.5" rx="1" fill="#848180"/><rect x="17" y="60.5" width="23" height="1.6" fill="#979696"/><rect x="16.5" y="62" width="4.5" height="3.2" fill="#83807e"/><rect x="35.5" y="62" width="4.5" height="3.2" fill="#83807e"/><circle cx="32.5" cy="54" r="0.9" fill="#9c9a99"/><path d="M75,63.5 L75,47 Q75,43.7 78,43.7 L88.5,43.7 Q91.5,43.7 91.5,47 L91.5,63.5 Z" fill="#a2a1a2"/></g><path d="M0,87 L44,77.5" stroke="#caced1" stroke-width="1.6" opacity="0.3" stroke-linecap="round" filter="url(#p4)"/><path d="M108.6,95 L115.8,82.6 C119,77.3 122.4,74 126.5,71.5 C130.8,69 136,68 142,67.5" stroke="#caced1" stroke-width="1.6" fill="none" opacity="0.2" filter="url(#b4)"/><path d="M110,95 L117,83 C120,78 123,75 127,72.5 C131,70 136,69 142,68.5 L142,95 Z" fill="#7e7674" filter="url(#b4)"/><g filter="url(#p4)"><ellipse cx="53.6" cy="41.2" rx="2.0" ry="2.7" fill="#736c6a"/><path d="M49,45.5 L52,44.3 L56.5,44.3 L60.3,45.6 L61.8,49 L61.8,56 L60.8,58 L60.3,62.8 L49.3,62.8 L49,56 L48.5,50 Z" fill="#736c6a"/><path d="M43.4,52.4 L45,51 L49.6,45 L51.6,44.6 L51.2,46.8 L46.6,53.6 L44.4,54 Z" fill="#736c6a"/><path d="M61,46.5 L63,50 L63,57.5 L61.5,58 Z" fill="#736c6a"/><path d="M48,62.5 L60.2,62.5 L59.8,70.8 L54.8,70.8 L54.2,68.5 L53.6,70.8 L48.2,70.8 Z" fill="#959292"/><path d="M48.8,70.8 L53.4,70.8 L53,77 L52.3,84.8 L50,84.8 L49.6,77 Z" fill="#858180"/><path d="M54.8,70.8 L59.4,70.8 L58.4,77.5 L57.4,85.2 L55,85.2 L55.2,77.5 Z" fill="#858180"/><ellipse cx="72" cy="42" rx="2.4" ry="3.1" fill="#736c6a"/><path d="M68.3,45.6 L75.8,45.6 L78,49 L78.6,56 L78,62 L79.5,67 L81,72.5 L77,73.5 L72,73.2 L67.5,72.5 L67,66 L64.5,62.5 L64.8,52 Z" fill="#736c6a"/><ellipse cx="65.5" cy="62" rx="1.8" ry="3" fill="#858180"/><path d="M69,72.8 L71.5,72.8 L71,85.5 L69.5,85.5 Z" fill="#858180"/><path d="M73,72.8 L75.5,72.8 L74.5,85 L73,85 Z" fill="#858180"/></g><rect y="40" width="142" height="55" fill="url(#v4)" mask="url(#m4)"/><rect width="142" height="95" fill="url(#w4)"/></svg><rect x="12.8" y="220.8" width="141.3" height="1.5" fill="#3c3c3c"/><rect x="12.8" y="242.7" width="141.3" height="1.5" fill="#3c3c3c"/><rect x="12.8" y="286.55" width="141.3" height="1.5" fill="#3c3c3c"/><text x="71.7" y="238.1" class="m" text-anchor="middle">R</text><text x="104.8" y="238.1" class="m" text-anchor="middle">G</text><text x="137.4" y="238.1" class="m" text-anchor="middle">B</text><text x="34" y="260.3" class="m" text-anchor="middle">Mean</text><text x="71.7" y="260.3" class="m" text-anchor="middle">220</text><text x="104.8" y="260.3" class="m" text-anchor="middle">155</text><text x="137.4" y="260.3" class="m" text-anchor="middle">71</text><text x="34" y="282.1" class="m" text-anchor="middle">SD</text><text x="71.7" y="282.1" class="m" text-anchor="middle">24</text><text x="104.8" y="282.1" class="m" text-anchor="middle">27</text><text x="137.4" y="282.1" class="m" text-anchor="middle">22</text><rect x="172.8" y="220.8" width="141.3" height="1.5" fill="#3c3c3c"/><rect x="172.8" y="242.7" width="141.3" height="1.5" fill="#3c3c3c"/><rect x="172.8" y="286.55" width="141.3" height="1.5" fill="#3c3c3c"/><text x="231.7" y="238.1" class="m" text-anchor="middle">R</text><text x="264.8" y="238.1" class="m" text-anchor="middle">G</text><text x="297.4" y="238.1" class="m" text-anchor="middle">B</text><text x="194" y="260.3" class="m" text-anchor="middle">Mean</text><text x="231.7" y="260.3" class="m" text-anchor="middle">160</text><text x="264.8" y="260.3" class="m" text-anchor="middle">160</text><text x="297.4" y="260.3" class="m" text-anchor="middle">160</text><text x="194" y="282.1" class="m" text-anchor="middle">SD</text><text x="231.7" y="282.1" class="m" text-anchor="middle">18</text><text x="264.8" y="282.1" class="m" text-anchor="middle">28</text><text x="297.4" y="282.1" class="m" text-anchor="middle">49</text><rect x="327.9" y="220.8" width="141.3" height="1.5" fill="#3c3c3c"/><rect x="327.9" y="242.7" width="141.3" height="1.5" fill="#3c3c3c"/><rect x="327.9" y="286.55" width="141.3" height="1.5" fill="#3c3c3c"/><text x="386.8" y="238.1" class="m" text-anchor="middle">R</text><text x="419.9" y="238.1" class="m" text-anchor="middle">G</text><text x="452.5" y="238.1" class="m" text-anchor="middle">B</text><text x="349.1" y="260.3" class="m" text-anchor="middle">Mean</text><text x="386.8" y="260.3" class="m" text-anchor="middle">163</text><text x="419.9" y="260.3" class="m" text-anchor="middle">158</text><text x="452.5" y="260.3" class="m" text-anchor="middle">145</text><text x="349.1" y="282.1" class="m" text-anchor="middle">SD</text><text x="386.8" y="282.1" class="m" text-anchor="middle">18</text><text x="419.9" y="282.1" class="m" text-anchor="middle">27</text><text x="452.5" y="282.1" class="m" text-anchor="middle">45</text><rect x="483.8" y="220.8" width="141.3" height="1.5" fill="#3c3c3c"/><rect x="483.8" y="242.7" width="141.3" height="1.5" fill="#3c3c3c"/><rect x="483.8" y="286.55" width="141.3" height="1.5" fill="#3c3c3c"/><text x="542.7" y="238.1" class="m" text-anchor="middle">R</text><text x="575.8" y="238.1" class="m" text-anchor="middle">G</text><text x="608.4" y="238.1" class="m" text-anchor="middle">B</text><text x="505" y="260.3" class="m" text-anchor="middle">Mean</text><text x="542.7" y="260.3" class="m" text-anchor="middle">173</text><text x="575.8" y="260.3" class="m" text-anchor="middle">145</text><text x="608.4" y="260.3" class="m" text-anchor="middle">133</text><text x="505" y="282.1" class="m" text-anchor="middle">SD</text><text x="542.7" y="282.1" class="m" text-anchor="middle">19</text><text x="575.8" y="282.1" class="m" text-anchor="middle">25</text><text x="608.4" y="282.1" class="m" text-anchor="middle">41</text><rect x="638.8" y="220.8" width="141.3" height="1.5" fill="#3c3c3c"/><rect x="638.8" y="242.7" width="141.3" height="1.5" fill="#3c3c3c"/><rect x="638.8" y="286.55" width="141.3" height="1.5" fill="#3c3c3c"/><text x="697.7" y="238.1" class="m" text-anchor="middle">R</text><text x="730.8" y="238.1" class="m" text-anchor="middle">G</text><text x="763.4" y="238.1" class="m" text-anchor="middle">B</text><text x="660" y="260.3" class="m" text-anchor="middle">Mean</text><text x="697.7" y="260.3" class="m" text-anchor="middle">169</text><text x="730.8" y="260.3" class="m" text-anchor="middle">168</text><text x="763.4" y="260.3" class="m" text-anchor="middle">168</text><text x="660" y="282.1" class="m" text-anchor="middle">SD</text><text x="697.7" y="282.1" class="m" text-anchor="middle">21</text><text x="730.8" y="282.1" class="m" text-anchor="middle">26</text><text x="763.4" y="282.1" class="m" text-anchor="middle">27</text>
</svg></body></html>
